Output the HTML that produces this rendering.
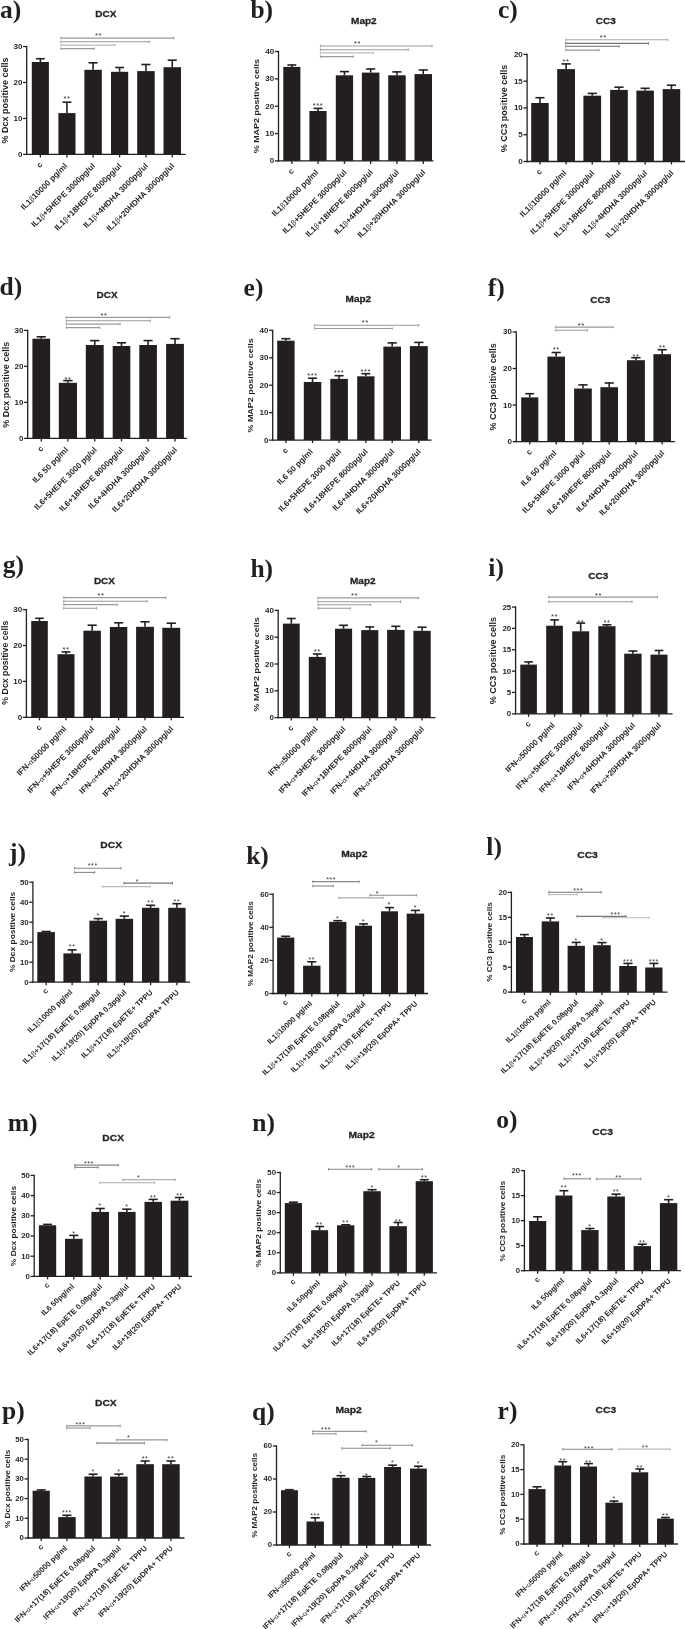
<!DOCTYPE html>
<html><head><meta charset="utf-8"><style>html,body{margin:0;padding:0;background:#fff;}svg{display:block;will-change:transform;}</style></head>
<body><svg width="685" height="1629" viewBox="0 0 685 1629">
<rect width="685" height="1629" fill="#fff"/>
<text x="0.1" y="17.6" font-family="Liberation Serif" font-weight="bold" font-size="25.5" fill="#231f20">a)</text>
<text transform="translate(95.3,17.1) scale(1.0,0.95)" font-family="Liberation Sans" font-weight="bold" font-size="10" fill="#231f20" stroke="#231f20" stroke-width="0.3">DCX</text>
<line x1="26.7" y1="45.90" x2="26.7" y2="155.05" stroke="#231f20" stroke-width="1.3"/>
<line x1="26.05" y1="154.4" x2="185.7" y2="154.4" stroke="#231f20" stroke-width="1.3"/>
<line x1="23.099999999999998" y1="154.40" x2="26.7" y2="154.40" stroke="#231f20" stroke-width="1.3"/>
<text transform="translate(22.40,157.24) scale(1,1.0)" text-anchor="end" font-family="Liberation Sans" font-weight="bold" font-size="8" fill="#231f20">0</text>
<line x1="23.099999999999998" y1="118.45" x2="26.7" y2="118.45" stroke="#231f20" stroke-width="1.3"/>
<text transform="translate(22.40,121.29) scale(1,1.0)" text-anchor="end" font-family="Liberation Sans" font-weight="bold" font-size="8" fill="#231f20">10</text>
<line x1="23.099999999999998" y1="82.50" x2="26.7" y2="82.50" stroke="#231f20" stroke-width="1.3"/>
<text transform="translate(22.40,85.34) scale(1,1.0)" text-anchor="end" font-family="Liberation Sans" font-weight="bold" font-size="8" fill="#231f20">20</text>
<line x1="23.099999999999998" y1="46.55" x2="26.7" y2="46.55" stroke="#231f20" stroke-width="1.3"/>
<text transform="translate(22.40,49.39) scale(1,1.0)" text-anchor="end" font-family="Liberation Sans" font-weight="bold" font-size="8" fill="#231f20">30</text>
<rect x="31.8" y="62" width="17.10" height="92.40" fill="#231f20"/>
<line x1="40.35" y1="58.4" x2="40.35" y2="62" stroke="#231f20" stroke-width="1.6"/>
<line x1="35.90" y1="58.70" x2="44.80" y2="58.70" stroke="#231f20" stroke-width="1.6"/>
<line x1="40.35" y1="154.4" x2="40.35" y2="157.4" stroke="#231f20" stroke-width="1.3"/>
<rect x="58.4" y="113.1" width="17.10" height="41.30" fill="#231f20"/>
<line x1="66.95" y1="101.9" x2="66.95" y2="113.1" stroke="#231f20" stroke-width="1.6"/>
<line x1="62.50" y1="102.20" x2="71.40" y2="102.20" stroke="#231f20" stroke-width="1.6"/>
<line x1="66.95" y1="154.4" x2="66.95" y2="157.4" stroke="#231f20" stroke-width="1.3"/>
<text x="66.95" y="101.34" text-anchor="middle" font-family="Liberation Sans" font-size="7.5" letter-spacing="0.6" fill="#333">**</text>
<rect x="84.4" y="69.8" width="17.40" height="84.60" fill="#231f20"/>
<line x1="93.10" y1="62.5" x2="93.10" y2="69.8" stroke="#231f20" stroke-width="1.6"/>
<line x1="88.58" y1="62.80" x2="97.62" y2="62.80" stroke="#231f20" stroke-width="1.6"/>
<line x1="93.10" y1="154.4" x2="93.10" y2="157.4" stroke="#231f20" stroke-width="1.3"/>
<rect x="111" y="71.8" width="17.20" height="82.60" fill="#231f20"/>
<line x1="119.60" y1="67.2" x2="119.60" y2="71.8" stroke="#231f20" stroke-width="1.6"/>
<line x1="115.13" y1="67.50" x2="124.07" y2="67.50" stroke="#231f20" stroke-width="1.6"/>
<line x1="119.60" y1="154.4" x2="119.60" y2="157.4" stroke="#231f20" stroke-width="1.3"/>
<rect x="137.2" y="71.1" width="17.50" height="83.30" fill="#231f20"/>
<line x1="145.95" y1="64.2" x2="145.95" y2="71.1" stroke="#231f20" stroke-width="1.6"/>
<line x1="141.40" y1="64.50" x2="150.50" y2="64.50" stroke="#231f20" stroke-width="1.6"/>
<line x1="145.95" y1="154.4" x2="145.95" y2="157.4" stroke="#231f20" stroke-width="1.3"/>
<rect x="163.5" y="67.2" width="17.50" height="87.20" fill="#231f20"/>
<line x1="172.25" y1="59.9" x2="172.25" y2="67.2" stroke="#231f20" stroke-width="1.6"/>
<line x1="167.70" y1="60.20" x2="176.80" y2="60.20" stroke="#231f20" stroke-width="1.6"/>
<line x1="172.25" y1="154.4" x2="172.25" y2="157.4" stroke="#231f20" stroke-width="1.3"/>
<line x1="60.6" y1="38.1" x2="174.2" y2="38.1" stroke="#9a9a9a" stroke-width="1.1"/>
<line x1="61.0" y1="36.800000000000004" x2="61.0" y2="39.4" stroke="#9a9a9a" stroke-width="0.9"/>
<line x1="173.79999999999998" y1="36.800000000000004" x2="173.79999999999998" y2="39.4" stroke="#9a9a9a" stroke-width="0.9"/>
<line x1="60.6" y1="41.8" x2="149.6" y2="41.8" stroke="#9a9a9a" stroke-width="1.1"/>
<line x1="61.0" y1="40.5" x2="61.0" y2="43.099999999999994" stroke="#9a9a9a" stroke-width="0.9"/>
<line x1="149.2" y1="40.5" x2="149.2" y2="43.099999999999994" stroke="#9a9a9a" stroke-width="0.9"/>
<line x1="60.6" y1="45.1" x2="115.3" y2="45.1" stroke="#bbb" stroke-width="1.1"/>
<line x1="61.0" y1="43.800000000000004" x2="61.0" y2="46.4" stroke="#bbb" stroke-width="0.9"/>
<line x1="114.89999999999999" y1="43.800000000000004" x2="114.89999999999999" y2="46.4" stroke="#bbb" stroke-width="0.9"/>
<line x1="60.6" y1="48.6" x2="94.6" y2="48.6" stroke="#9a9a9a" stroke-width="1.1"/>
<line x1="61.0" y1="47.300000000000004" x2="61.0" y2="49.9" stroke="#9a9a9a" stroke-width="0.9"/>
<line x1="94.19999999999999" y1="47.300000000000004" x2="94.19999999999999" y2="49.9" stroke="#9a9a9a" stroke-width="0.9"/>
<text x="98.5" y="37.64" text-anchor="middle" font-family="Liberation Sans" font-size="7.5" letter-spacing="0.6" fill="#333">**</text>
<text transform="translate(8.4,100.5) rotate(-90) scale(1,0.98)" text-anchor="middle" font-family="Liberation Sans" font-weight="bold" font-size="9" fill="#231f20">% Dcx positive cells</text>
<text transform="translate(42.95,165.00) scale(1,1.0) rotate(-45)" text-anchor="end" font-family="Liberation Sans" font-weight="bold" font-size="8.1" fill="#231f20">c</text>
<text transform="translate(67.85,166.50) scale(1,1.0) rotate(-45)" text-anchor="end" font-family="Liberation Sans" font-weight="bold" font-size="8.1" fill="#231f20">IL1<tspan font-family="Liberation Serif" font-weight="normal">&#946;</tspan>10000 pg/ml</text>
<text transform="translate(95.70,166.50) scale(1,1.0) rotate(-45)" text-anchor="end" font-family="Liberation Sans" font-weight="bold" font-size="8.1" fill="#231f20">IL1<tspan font-family="Liberation Serif" font-weight="normal">&#946;</tspan>+5HEPE 3000pg/ul</text>
<text transform="translate(122.20,166.50) scale(1,1.0) rotate(-45)" text-anchor="end" font-family="Liberation Sans" font-weight="bold" font-size="8.1" fill="#231f20">IL1<tspan font-family="Liberation Serif" font-weight="normal">&#946;</tspan>+18HEPE 8000pg/ul</text>
<text transform="translate(148.55,166.50) scale(1,1.0) rotate(-45)" text-anchor="end" font-family="Liberation Sans" font-weight="bold" font-size="8.1" fill="#231f20">IL1<tspan font-family="Liberation Serif" font-weight="normal">&#946;</tspan>+4HDHA 3000pg/ul</text>
<text transform="translate(174.85,166.50) scale(1,1.0) rotate(-45)" text-anchor="end" font-family="Liberation Sans" font-weight="bold" font-size="8.1" fill="#231f20">IL1<tspan font-family="Liberation Serif" font-weight="normal">&#946;</tspan>+20HDHA 3000pg/ul</text>
<text x="250.4" y="17.7" font-family="Liberation Serif" font-weight="bold" font-size="25.5" fill="#231f20">b)</text>
<text transform="translate(351.1,24) scale(1.0,0.95)" font-family="Liberation Sans" font-weight="bold" font-size="10" fill="#231f20" stroke="#231f20" stroke-width="0.3">Map2</text>
<line x1="278.5" y1="50.85" x2="278.5" y2="161.55" stroke="#231f20" stroke-width="1.3"/>
<line x1="277.85" y1="160.9" x2="433.5" y2="160.9" stroke="#231f20" stroke-width="1.3"/>
<line x1="274.9" y1="160.90" x2="278.5" y2="160.90" stroke="#231f20" stroke-width="1.3"/>
<text transform="translate(274.20,163.40) scale(1,0.88)" text-anchor="end" font-family="Liberation Sans" font-weight="bold" font-size="8" fill="#231f20">0</text>
<line x1="274.9" y1="133.55" x2="278.5" y2="133.55" stroke="#231f20" stroke-width="1.3"/>
<text transform="translate(274.20,136.05) scale(1,0.88)" text-anchor="end" font-family="Liberation Sans" font-weight="bold" font-size="8" fill="#231f20">10</text>
<line x1="274.9" y1="106.20" x2="278.5" y2="106.20" stroke="#231f20" stroke-width="1.3"/>
<text transform="translate(274.20,108.70) scale(1,0.88)" text-anchor="end" font-family="Liberation Sans" font-weight="bold" font-size="8" fill="#231f20">20</text>
<line x1="274.9" y1="78.85" x2="278.5" y2="78.85" stroke="#231f20" stroke-width="1.3"/>
<text transform="translate(274.20,81.35) scale(1,0.88)" text-anchor="end" font-family="Liberation Sans" font-weight="bold" font-size="8" fill="#231f20">30</text>
<line x1="274.9" y1="51.50" x2="278.5" y2="51.50" stroke="#231f20" stroke-width="1.3"/>
<text transform="translate(274.20,54.00) scale(1,0.88)" text-anchor="end" font-family="Liberation Sans" font-weight="bold" font-size="8" fill="#231f20">40</text>
<rect x="283.3" y="66.9" width="17.10" height="94.00" fill="#231f20"/>
<line x1="291.85" y1="64.7" x2="291.85" y2="66.9" stroke="#231f20" stroke-width="1.6"/>
<line x1="287.40" y1="65.00" x2="296.30" y2="65.00" stroke="#231f20" stroke-width="1.6"/>
<line x1="291.85" y1="160.9" x2="291.85" y2="163.9" stroke="#231f20" stroke-width="1.3"/>
<rect x="309.4" y="111" width="17.20" height="49.90" fill="#231f20"/>
<line x1="318.00" y1="108.1" x2="318.00" y2="111" stroke="#231f20" stroke-width="1.6"/>
<line x1="313.53" y1="108.40" x2="322.47" y2="108.40" stroke="#231f20" stroke-width="1.6"/>
<line x1="318.00" y1="160.9" x2="318.00" y2="163.9" stroke="#231f20" stroke-width="1.3"/>
<text x="318.00" y="108.34" text-anchor="middle" font-family="Liberation Sans" font-size="7.5" letter-spacing="0.6" fill="#333">***</text>
<rect x="335.8" y="75.3" width="17.30" height="85.60" fill="#231f20"/>
<line x1="344.45" y1="71.3" x2="344.45" y2="75.3" stroke="#231f20" stroke-width="1.6"/>
<line x1="339.95" y1="71.60" x2="348.95" y2="71.60" stroke="#231f20" stroke-width="1.6"/>
<line x1="344.45" y1="160.9" x2="344.45" y2="163.9" stroke="#231f20" stroke-width="1.3"/>
<rect x="361.9" y="72.6" width="17.50" height="88.30" fill="#231f20"/>
<line x1="370.65" y1="68.7" x2="370.65" y2="72.6" stroke="#231f20" stroke-width="1.6"/>
<line x1="366.10" y1="69.00" x2="375.20" y2="69.00" stroke="#231f20" stroke-width="1.6"/>
<line x1="370.65" y1="160.9" x2="370.65" y2="163.9" stroke="#231f20" stroke-width="1.3"/>
<rect x="388.2" y="75.3" width="17.50" height="85.60" fill="#231f20"/>
<line x1="396.95" y1="71.6" x2="396.95" y2="75.3" stroke="#231f20" stroke-width="1.6"/>
<line x1="392.40" y1="71.90" x2="401.50" y2="71.90" stroke="#231f20" stroke-width="1.6"/>
<line x1="396.95" y1="160.9" x2="396.95" y2="163.9" stroke="#231f20" stroke-width="1.3"/>
<rect x="414.5" y="74.1" width="17.50" height="86.80" fill="#231f20"/>
<line x1="423.25" y1="69.7" x2="423.25" y2="74.1" stroke="#231f20" stroke-width="1.6"/>
<line x1="418.70" y1="70.00" x2="427.80" y2="70.00" stroke="#231f20" stroke-width="1.6"/>
<line x1="423.25" y1="160.9" x2="423.25" y2="163.9" stroke="#231f20" stroke-width="1.3"/>
<line x1="320" y1="46" x2="432.4" y2="46" stroke="#9a9a9a" stroke-width="1.1"/>
<line x1="320.4" y1="44.7" x2="320.4" y2="47.3" stroke="#9a9a9a" stroke-width="0.9"/>
<line x1="432.0" y1="44.7" x2="432.0" y2="47.3" stroke="#9a9a9a" stroke-width="0.9"/>
<line x1="320" y1="49.7" x2="408.6" y2="49.7" stroke="#9a9a9a" stroke-width="1.1"/>
<line x1="320.4" y1="48.400000000000006" x2="320.4" y2="51.0" stroke="#9a9a9a" stroke-width="0.9"/>
<line x1="408.20000000000005" y1="48.400000000000006" x2="408.20000000000005" y2="51.0" stroke="#9a9a9a" stroke-width="0.9"/>
<line x1="320" y1="52.9" x2="373.9" y2="52.9" stroke="#bbb" stroke-width="1.1"/>
<line x1="320.4" y1="51.6" x2="320.4" y2="54.199999999999996" stroke="#bbb" stroke-width="0.9"/>
<line x1="373.5" y1="51.6" x2="373.5" y2="54.199999999999996" stroke="#bbb" stroke-width="0.9"/>
<line x1="320" y1="56.6" x2="353.6" y2="56.6" stroke="#9a9a9a" stroke-width="1.1"/>
<line x1="320.4" y1="55.300000000000004" x2="320.4" y2="57.9" stroke="#9a9a9a" stroke-width="0.9"/>
<line x1="353.20000000000005" y1="55.300000000000004" x2="353.20000000000005" y2="57.9" stroke="#9a9a9a" stroke-width="0.9"/>
<text x="357.5" y="46.14" text-anchor="middle" font-family="Liberation Sans" font-size="7.5" letter-spacing="0.6" fill="#333">**</text>
<text transform="translate(259.2,106.2) rotate(-90) scale(1,0.8)" text-anchor="middle" font-family="Liberation Sans" font-weight="bold" font-size="9" fill="#231f20">% MAP2 positive cells</text>
<text transform="translate(294.45,171.50) scale(1,1.0) rotate(-45)" text-anchor="end" font-family="Liberation Sans" font-weight="bold" font-size="8.1" fill="#231f20">c</text>
<text transform="translate(318.90,173.00) scale(1,1.0) rotate(-45)" text-anchor="end" font-family="Liberation Sans" font-weight="bold" font-size="8.1" fill="#231f20">IL1<tspan font-family="Liberation Serif" font-weight="normal">&#946;</tspan>10000 pg/ml</text>
<text transform="translate(347.05,173.00) scale(1,1.0) rotate(-45)" text-anchor="end" font-family="Liberation Sans" font-weight="bold" font-size="8.1" fill="#231f20">IL1<tspan font-family="Liberation Serif" font-weight="normal">&#946;</tspan>+5HEPE 3000pg/ul</text>
<text transform="translate(373.25,173.00) scale(1,1.0) rotate(-45)" text-anchor="end" font-family="Liberation Sans" font-weight="bold" font-size="8.1" fill="#231f20">IL1<tspan font-family="Liberation Serif" font-weight="normal">&#946;</tspan>+18HEPE 8000pg/ul</text>
<text transform="translate(399.55,173.00) scale(1,1.0) rotate(-45)" text-anchor="end" font-family="Liberation Sans" font-weight="bold" font-size="8.1" fill="#231f20">IL1<tspan font-family="Liberation Serif" font-weight="normal">&#946;</tspan>+4HDHA 3000pg/ul</text>
<text transform="translate(425.85,173.00) scale(1,1.0) rotate(-45)" text-anchor="end" font-family="Liberation Sans" font-weight="bold" font-size="8.1" fill="#231f20">IL1<tspan font-family="Liberation Serif" font-weight="normal">&#946;</tspan>+20HDHA 3000pg/ul</text>
<text x="497.9" y="17.7" font-family="Liberation Serif" font-weight="bold" font-size="25.5" fill="#231f20">c)</text>
<text transform="translate(595.7,23.8) scale(1.0,0.95)" font-family="Liberation Sans" font-weight="bold" font-size="10" fill="#231f20" stroke="#231f20" stroke-width="0.3">CC3</text>
<line x1="527.1" y1="53.75" x2="527.1" y2="162.15" stroke="#231f20" stroke-width="1.3"/>
<line x1="526.45" y1="161.5" x2="685" y2="161.5" stroke="#231f20" stroke-width="1.3"/>
<line x1="523.5" y1="161.50" x2="527.1" y2="161.50" stroke="#231f20" stroke-width="1.3"/>
<text transform="translate(522.80,164.00) scale(1,0.88)" text-anchor="end" font-family="Liberation Sans" font-weight="bold" font-size="8" fill="#231f20">0</text>
<line x1="523.5" y1="134.72" x2="527.1" y2="134.72" stroke="#231f20" stroke-width="1.3"/>
<text transform="translate(522.80,137.22) scale(1,0.88)" text-anchor="end" font-family="Liberation Sans" font-weight="bold" font-size="8" fill="#231f20">5</text>
<line x1="523.5" y1="107.95" x2="527.1" y2="107.95" stroke="#231f20" stroke-width="1.3"/>
<text transform="translate(522.80,110.45) scale(1,0.88)" text-anchor="end" font-family="Liberation Sans" font-weight="bold" font-size="8" fill="#231f20">10</text>
<line x1="523.5" y1="81.17" x2="527.1" y2="81.17" stroke="#231f20" stroke-width="1.3"/>
<text transform="translate(522.80,83.67) scale(1,0.88)" text-anchor="end" font-family="Liberation Sans" font-weight="bold" font-size="8" fill="#231f20">15</text>
<line x1="523.5" y1="54.40" x2="527.1" y2="54.40" stroke="#231f20" stroke-width="1.3"/>
<text transform="translate(522.80,56.90) scale(1,0.88)" text-anchor="end" font-family="Liberation Sans" font-weight="bold" font-size="8" fill="#231f20">20</text>
<rect x="531.2" y="103" width="17.50" height="58.50" fill="#231f20"/>
<line x1="539.95" y1="97.4" x2="539.95" y2="103" stroke="#231f20" stroke-width="1.6"/>
<line x1="535.40" y1="97.70" x2="544.50" y2="97.70" stroke="#231f20" stroke-width="1.6"/>
<line x1="539.95" y1="161.5" x2="539.95" y2="164.5" stroke="#231f20" stroke-width="1.3"/>
<rect x="557.2" y="69.1" width="17.80" height="92.40" fill="#231f20"/>
<line x1="566.10" y1="63.6" x2="566.10" y2="69.1" stroke="#231f20" stroke-width="1.6"/>
<line x1="561.47" y1="63.90" x2="570.73" y2="63.90" stroke="#231f20" stroke-width="1.6"/>
<line x1="566.10" y1="161.5" x2="566.10" y2="164.5" stroke="#231f20" stroke-width="1.3"/>
<text x="566.10" y="64.24" text-anchor="middle" font-family="Liberation Sans" font-size="7.5" letter-spacing="0.6" fill="#333">**</text>
<rect x="583.4" y="95.7" width="17.70" height="65.80" fill="#231f20"/>
<line x1="592.25" y1="93.1" x2="592.25" y2="95.7" stroke="#231f20" stroke-width="1.6"/>
<line x1="587.65" y1="93.40" x2="596.85" y2="93.40" stroke="#231f20" stroke-width="1.6"/>
<line x1="592.25" y1="161.5" x2="592.25" y2="164.5" stroke="#231f20" stroke-width="1.3"/>
<rect x="610.1" y="89.9" width="17.70" height="71.60" fill="#231f20"/>
<line x1="618.95" y1="86.9" x2="618.95" y2="89.9" stroke="#231f20" stroke-width="1.6"/>
<line x1="614.35" y1="87.20" x2="623.55" y2="87.20" stroke="#231f20" stroke-width="1.6"/>
<line x1="618.95" y1="161.5" x2="618.95" y2="164.5" stroke="#231f20" stroke-width="1.3"/>
<rect x="636.4" y="90.6" width="17.50" height="70.90" fill="#231f20"/>
<line x1="645.15" y1="88" x2="645.15" y2="90.6" stroke="#231f20" stroke-width="1.6"/>
<line x1="640.60" y1="88.30" x2="649.70" y2="88.30" stroke="#231f20" stroke-width="1.6"/>
<line x1="645.15" y1="161.5" x2="645.15" y2="164.5" stroke="#231f20" stroke-width="1.3"/>
<rect x="662.7" y="89.1" width="17.50" height="72.40" fill="#231f20"/>
<line x1="671.45" y1="84.9" x2="671.45" y2="89.1" stroke="#231f20" stroke-width="1.6"/>
<line x1="666.90" y1="85.20" x2="676.00" y2="85.20" stroke="#231f20" stroke-width="1.6"/>
<line x1="671.45" y1="161.5" x2="671.45" y2="164.5" stroke="#231f20" stroke-width="1.3"/>
<line x1="565.2" y1="39.8" x2="668.2" y2="39.8" stroke="#aaa" stroke-width="1.1"/>
<line x1="565.6" y1="38.5" x2="565.6" y2="41.099999999999994" stroke="#aaa" stroke-width="0.9"/>
<line x1="667.8000000000001" y1="38.5" x2="667.8000000000001" y2="41.099999999999994" stroke="#aaa" stroke-width="0.9"/>
<line x1="565.2" y1="43.4" x2="648.8" y2="43.4" stroke="#777" stroke-width="1.1"/>
<line x1="565.6" y1="42.1" x2="565.6" y2="44.699999999999996" stroke="#777" stroke-width="0.9"/>
<line x1="648.4" y1="42.1" x2="648.4" y2="44.699999999999996" stroke="#777" stroke-width="0.9"/>
<line x1="565.2" y1="46.4" x2="619.6" y2="46.4" stroke="#888" stroke-width="1.1"/>
<line x1="565.6" y1="45.1" x2="565.6" y2="47.699999999999996" stroke="#888" stroke-width="0.9"/>
<line x1="619.2" y1="45.1" x2="619.2" y2="47.699999999999996" stroke="#888" stroke-width="0.9"/>
<line x1="565.2" y1="50.1" x2="599.3" y2="50.1" stroke="#999" stroke-width="1.1"/>
<line x1="565.6" y1="48.800000000000004" x2="565.6" y2="51.4" stroke="#999" stroke-width="0.9"/>
<line x1="598.9" y1="48.800000000000004" x2="598.9" y2="51.4" stroke="#999" stroke-width="0.9"/>
<text x="603.3" y="39.94" text-anchor="middle" font-family="Liberation Sans" font-size="7.5" letter-spacing="0.6" fill="#333">**</text>
<text transform="translate(507,108.5) rotate(-90) scale(1,0.95)" text-anchor="middle" font-family="Liberation Sans" font-weight="bold" font-size="9" fill="#231f20">% CC3 positive cells</text>
<text transform="translate(542.55,172.10) scale(1,1.0) rotate(-45)" text-anchor="end" font-family="Liberation Sans" font-weight="bold" font-size="8.1" fill="#231f20">c</text>
<text transform="translate(567.00,173.60) scale(1,1.0) rotate(-45)" text-anchor="end" font-family="Liberation Sans" font-weight="bold" font-size="8.1" fill="#231f20">IL1<tspan font-family="Liberation Serif" font-weight="normal">&#946;</tspan>10000 pg/ml</text>
<text transform="translate(594.85,173.60) scale(1,1.0) rotate(-45)" text-anchor="end" font-family="Liberation Sans" font-weight="bold" font-size="8.1" fill="#231f20">IL1<tspan font-family="Liberation Serif" font-weight="normal">&#946;</tspan>+5HEPE 3000pg/ul</text>
<text transform="translate(621.55,173.60) scale(1,1.0) rotate(-45)" text-anchor="end" font-family="Liberation Sans" font-weight="bold" font-size="8.1" fill="#231f20">IL1<tspan font-family="Liberation Serif" font-weight="normal">&#946;</tspan>+18HEPE 8000pg/ul</text>
<text transform="translate(647.75,173.60) scale(1,1.0) rotate(-45)" text-anchor="end" font-family="Liberation Sans" font-weight="bold" font-size="8.1" fill="#231f20">IL1<tspan font-family="Liberation Serif" font-weight="normal">&#946;</tspan>+4HDHA 3000pg/ul</text>
<text transform="translate(674.05,173.60) scale(1,1.0) rotate(-45)" text-anchor="end" font-family="Liberation Sans" font-weight="bold" font-size="8.1" fill="#231f20">IL1<tspan font-family="Liberation Serif" font-weight="normal">&#946;</tspan>+20HDHA 3000pg/ul</text>
<text x="-0.5" y="295.1" font-family="Liberation Serif" font-weight="bold" font-size="25.5" fill="#231f20">d)</text>
<text transform="translate(96.6,297.9) scale(1.0,0.95)" font-family="Liberation Sans" font-weight="bold" font-size="10" fill="#231f20" stroke="#231f20" stroke-width="0.3">DCX</text>
<line x1="27.7" y1="329.75" x2="27.7" y2="439.05" stroke="#231f20" stroke-width="1.3"/>
<line x1="27.05" y1="438.4" x2="187" y2="438.4" stroke="#231f20" stroke-width="1.3"/>
<line x1="24.099999999999998" y1="438.40" x2="27.7" y2="438.40" stroke="#231f20" stroke-width="1.3"/>
<text transform="translate(23.40,440.90) scale(1,0.88)" text-anchor="end" font-family="Liberation Sans" font-weight="bold" font-size="8" fill="#231f20">0</text>
<line x1="24.099999999999998" y1="402.40" x2="27.7" y2="402.40" stroke="#231f20" stroke-width="1.3"/>
<text transform="translate(23.40,404.90) scale(1,0.88)" text-anchor="end" font-family="Liberation Sans" font-weight="bold" font-size="8" fill="#231f20">10</text>
<line x1="24.099999999999998" y1="366.40" x2="27.7" y2="366.40" stroke="#231f20" stroke-width="1.3"/>
<text transform="translate(23.40,368.90) scale(1,0.88)" text-anchor="end" font-family="Liberation Sans" font-weight="bold" font-size="8" fill="#231f20">20</text>
<line x1="24.099999999999998" y1="330.40" x2="27.7" y2="330.40" stroke="#231f20" stroke-width="1.3"/>
<text transform="translate(23.40,332.90) scale(1,0.88)" text-anchor="end" font-family="Liberation Sans" font-weight="bold" font-size="8" fill="#231f20">30</text>
<rect x="32.4" y="338.7" width="17.70" height="99.70" fill="#231f20"/>
<line x1="41.25" y1="336.5" x2="41.25" y2="338.7" stroke="#231f20" stroke-width="1.6"/>
<line x1="36.65" y1="336.80" x2="45.85" y2="336.80" stroke="#231f20" stroke-width="1.6"/>
<line x1="41.25" y1="438.4" x2="41.25" y2="441.4" stroke="#231f20" stroke-width="1.3"/>
<rect x="58.8" y="382.8" width="18.20" height="55.60" fill="#231f20"/>
<line x1="67.90" y1="380.3" x2="67.90" y2="382.8" stroke="#231f20" stroke-width="1.6"/>
<line x1="63.17" y1="380.60" x2="72.63" y2="380.60" stroke="#231f20" stroke-width="1.6"/>
<line x1="67.90" y1="438.4" x2="67.90" y2="441.4" stroke="#231f20" stroke-width="1.3"/>
<text x="67.90" y="382.14" text-anchor="middle" font-family="Liberation Sans" font-size="7.5" letter-spacing="0.6" fill="#333">**</text>
<rect x="85.8" y="345" width="17.90" height="93.40" fill="#231f20"/>
<line x1="94.75" y1="340.3" x2="94.75" y2="345" stroke="#231f20" stroke-width="1.6"/>
<line x1="90.10" y1="340.60" x2="99.40" y2="340.60" stroke="#231f20" stroke-width="1.6"/>
<line x1="94.75" y1="438.4" x2="94.75" y2="441.4" stroke="#231f20" stroke-width="1.3"/>
<rect x="112.7" y="346" width="17.60" height="92.40" fill="#231f20"/>
<line x1="121.50" y1="342.5" x2="121.50" y2="346" stroke="#231f20" stroke-width="1.6"/>
<line x1="116.92" y1="342.80" x2="126.08" y2="342.80" stroke="#231f20" stroke-width="1.6"/>
<line x1="121.50" y1="438.4" x2="121.50" y2="441.4" stroke="#231f20" stroke-width="1.3"/>
<rect x="139.3" y="345" width="17.60" height="93.40" fill="#231f20"/>
<line x1="148.10" y1="340.3" x2="148.10" y2="345" stroke="#231f20" stroke-width="1.6"/>
<line x1="143.52" y1="340.60" x2="152.68" y2="340.60" stroke="#231f20" stroke-width="1.6"/>
<line x1="148.10" y1="438.4" x2="148.10" y2="441.4" stroke="#231f20" stroke-width="1.3"/>
<rect x="166.1" y="343.9" width="17.80" height="94.50" fill="#231f20"/>
<line x1="175.00" y1="338.4" x2="175.00" y2="343.9" stroke="#231f20" stroke-width="1.6"/>
<line x1="170.37" y1="338.70" x2="179.63" y2="338.70" stroke="#231f20" stroke-width="1.6"/>
<line x1="175.00" y1="438.4" x2="175.00" y2="441.4" stroke="#231f20" stroke-width="1.3"/>
<line x1="65.9" y1="317.4" x2="170" y2="317.4" stroke="#9a9a9a" stroke-width="1.1"/>
<line x1="66.30000000000001" y1="316.09999999999997" x2="66.30000000000001" y2="318.7" stroke="#9a9a9a" stroke-width="0.9"/>
<line x1="169.6" y1="316.09999999999997" x2="169.6" y2="318.7" stroke="#9a9a9a" stroke-width="0.9"/>
<line x1="65.9" y1="320.8" x2="150.8" y2="320.8" stroke="#9a9a9a" stroke-width="1.1"/>
<line x1="66.30000000000001" y1="319.5" x2="66.30000000000001" y2="322.1" stroke="#9a9a9a" stroke-width="0.9"/>
<line x1="150.4" y1="319.5" x2="150.4" y2="322.1" stroke="#9a9a9a" stroke-width="0.9"/>
<line x1="65.9" y1="324.1" x2="120.5" y2="324.1" stroke="#9a9a9a" stroke-width="1.1"/>
<line x1="66.30000000000001" y1="322.8" x2="66.30000000000001" y2="325.40000000000003" stroke="#9a9a9a" stroke-width="0.9"/>
<line x1="120.1" y1="322.8" x2="120.1" y2="325.40000000000003" stroke="#9a9a9a" stroke-width="0.9"/>
<line x1="65.9" y1="327.6" x2="100.1" y2="327.6" stroke="#9a9a9a" stroke-width="1.1"/>
<line x1="66.30000000000001" y1="326.3" x2="66.30000000000001" y2="328.90000000000003" stroke="#9a9a9a" stroke-width="0.9"/>
<line x1="99.69999999999999" y1="326.3" x2="99.69999999999999" y2="328.90000000000003" stroke="#9a9a9a" stroke-width="0.9"/>
<text x="103.9" y="317.54" text-anchor="middle" font-family="Liberation Sans" font-size="7.5" letter-spacing="0.6" fill="#333">**</text>
<text transform="translate(9.2,384.7) rotate(-90) scale(1,0.95)" text-anchor="middle" font-family="Liberation Sans" font-weight="bold" font-size="9" fill="#231f20">% Dcx positive cells</text>
<text transform="translate(43.85,449.00) scale(1,1.0) rotate(-45)" text-anchor="end" font-family="Liberation Sans" font-weight="bold" font-size="8.1" fill="#231f20">c</text>
<text transform="translate(68.80,450.50) scale(1,1.0) rotate(-45)" text-anchor="end" font-family="Liberation Sans" font-weight="bold" font-size="8.1" fill="#231f20">IL6 50 pg/ml</text>
<text transform="translate(97.35,450.50) scale(1,1.0) rotate(-45)" text-anchor="end" font-family="Liberation Sans" font-weight="bold" font-size="8.1" fill="#231f20">IL6+5HEPE 3000 pg/ul</text>
<text transform="translate(124.10,450.50) scale(1,1.0) rotate(-45)" text-anchor="end" font-family="Liberation Sans" font-weight="bold" font-size="8.1" fill="#231f20">IL6+18HEPE 8000pg/ul</text>
<text transform="translate(150.70,450.50) scale(1,1.0) rotate(-45)" text-anchor="end" font-family="Liberation Sans" font-weight="bold" font-size="8.1" fill="#231f20">IL6+4HDHA 3000pg/ul</text>
<text transform="translate(177.60,450.50) scale(1,1.0) rotate(-45)" text-anchor="end" font-family="Liberation Sans" font-weight="bold" font-size="8.1" fill="#231f20">IL6+20HDHA 3000pg/ul</text>
<text x="243.6" y="296" font-family="Liberation Serif" font-weight="bold" font-size="25.5" fill="#231f20">e)</text>
<text transform="translate(345.6,302.3) scale(1.0,0.95)" font-family="Liberation Sans" font-weight="bold" font-size="10" fill="#231f20" stroke="#231f20" stroke-width="0.3">Map2</text>
<line x1="272.7" y1="329.65" x2="272.7" y2="440.75" stroke="#231f20" stroke-width="1.3"/>
<line x1="272.05" y1="440.1" x2="431.5" y2="440.1" stroke="#231f20" stroke-width="1.3"/>
<line x1="269.09999999999997" y1="440.10" x2="272.7" y2="440.10" stroke="#231f20" stroke-width="1.3"/>
<text transform="translate(268.40,442.60) scale(1,0.88)" text-anchor="end" font-family="Liberation Sans" font-weight="bold" font-size="8" fill="#231f20">0</text>
<line x1="269.09999999999997" y1="412.65" x2="272.7" y2="412.65" stroke="#231f20" stroke-width="1.3"/>
<text transform="translate(268.40,415.15) scale(1,0.88)" text-anchor="end" font-family="Liberation Sans" font-weight="bold" font-size="8" fill="#231f20">10</text>
<line x1="269.09999999999997" y1="385.20" x2="272.7" y2="385.20" stroke="#231f20" stroke-width="1.3"/>
<text transform="translate(268.40,387.70) scale(1,0.88)" text-anchor="end" font-family="Liberation Sans" font-weight="bold" font-size="8" fill="#231f20">20</text>
<line x1="269.09999999999997" y1="357.75" x2="272.7" y2="357.75" stroke="#231f20" stroke-width="1.3"/>
<text transform="translate(268.40,360.25) scale(1,0.88)" text-anchor="end" font-family="Liberation Sans" font-weight="bold" font-size="8" fill="#231f20">30</text>
<line x1="269.09999999999997" y1="330.30" x2="272.7" y2="330.30" stroke="#231f20" stroke-width="1.3"/>
<text transform="translate(268.40,332.80) scale(1,0.88)" text-anchor="end" font-family="Liberation Sans" font-weight="bold" font-size="8" fill="#231f20">40</text>
<rect x="277.2" y="340.7" width="17.40" height="99.40" fill="#231f20"/>
<line x1="285.90" y1="338.4" x2="285.90" y2="340.7" stroke="#231f20" stroke-width="1.6"/>
<line x1="281.38" y1="338.70" x2="290.42" y2="338.70" stroke="#231f20" stroke-width="1.6"/>
<line x1="285.90" y1="440.1" x2="285.90" y2="443.1" stroke="#231f20" stroke-width="1.3"/>
<rect x="303.8" y="382" width="17.50" height="58.10" fill="#231f20"/>
<line x1="312.55" y1="377.9" x2="312.55" y2="382" stroke="#231f20" stroke-width="1.6"/>
<line x1="308.00" y1="378.20" x2="317.10" y2="378.20" stroke="#231f20" stroke-width="1.6"/>
<line x1="312.55" y1="440.1" x2="312.55" y2="443.1" stroke="#231f20" stroke-width="1.3"/>
<text x="312.55" y="377.64" text-anchor="middle" font-family="Liberation Sans" font-size="7.5" letter-spacing="0.6" fill="#333">***</text>
<rect x="330.3" y="378.9" width="17.60" height="61.20" fill="#231f20"/>
<line x1="339.10" y1="375.4" x2="339.10" y2="378.9" stroke="#231f20" stroke-width="1.6"/>
<line x1="334.52" y1="375.70" x2="343.68" y2="375.70" stroke="#231f20" stroke-width="1.6"/>
<line x1="339.10" y1="440.1" x2="339.10" y2="443.1" stroke="#231f20" stroke-width="1.3"/>
<text x="339.10" y="375.14" text-anchor="middle" font-family="Liberation Sans" font-size="7.5" letter-spacing="0.6" fill="#333">***</text>
<rect x="357.2" y="376.3" width="17.30" height="63.80" fill="#231f20"/>
<line x1="365.85" y1="373.4" x2="365.85" y2="376.3" stroke="#231f20" stroke-width="1.6"/>
<line x1="361.35" y1="373.70" x2="370.35" y2="373.70" stroke="#231f20" stroke-width="1.6"/>
<line x1="365.85" y1="440.1" x2="365.85" y2="443.1" stroke="#231f20" stroke-width="1.3"/>
<text x="365.85" y="373.54" text-anchor="middle" font-family="Liberation Sans" font-size="7.5" letter-spacing="0.6" fill="#333">***</text>
<rect x="383.4" y="346.6" width="17.60" height="93.50" fill="#231f20"/>
<line x1="392.20" y1="342.6" x2="392.20" y2="346.6" stroke="#231f20" stroke-width="1.6"/>
<line x1="387.62" y1="342.90" x2="396.78" y2="342.90" stroke="#231f20" stroke-width="1.6"/>
<line x1="392.20" y1="440.1" x2="392.20" y2="443.1" stroke="#231f20" stroke-width="1.3"/>
<rect x="409.9" y="346.1" width="17.90" height="94.00" fill="#231f20"/>
<line x1="418.85" y1="342.1" x2="418.85" y2="346.1" stroke="#231f20" stroke-width="1.6"/>
<line x1="414.20" y1="342.40" x2="423.50" y2="342.40" stroke="#231f20" stroke-width="1.6"/>
<line x1="418.85" y1="440.1" x2="418.85" y2="443.1" stroke="#231f20" stroke-width="1.3"/>
<line x1="314.2" y1="325.2" x2="419" y2="325.2" stroke="#9a9a9a" stroke-width="1.1"/>
<line x1="314.59999999999997" y1="323.9" x2="314.59999999999997" y2="326.5" stroke="#9a9a9a" stroke-width="0.9"/>
<line x1="418.6" y1="323.9" x2="418.6" y2="326.5" stroke="#9a9a9a" stroke-width="0.9"/>
<line x1="314.2" y1="328.5" x2="392.5" y2="328.5" stroke="#9a9a9a" stroke-width="1.1"/>
<line x1="314.59999999999997" y1="327.2" x2="314.59999999999997" y2="329.8" stroke="#9a9a9a" stroke-width="0.9"/>
<line x1="392.1" y1="327.2" x2="392.1" y2="329.8" stroke="#9a9a9a" stroke-width="0.9"/>
<text x="365.3" y="325.34" text-anchor="middle" font-family="Liberation Sans" font-size="7.5" letter-spacing="0.6" fill="#333">**</text>
<text transform="translate(253.3,385.4) rotate(-90) scale(1,0.82)" text-anchor="middle" font-family="Liberation Sans" font-weight="bold" font-size="9" fill="#231f20">% MAP2 positive cells</text>
<text transform="translate(288.50,450.70) scale(1,1.0) rotate(-45)" text-anchor="end" font-family="Liberation Sans" font-weight="bold" font-size="8.1" fill="#231f20">c</text>
<text transform="translate(313.45,452.20) scale(1,1.0) rotate(-45)" text-anchor="end" font-family="Liberation Sans" font-weight="bold" font-size="8.1" fill="#231f20">IL6 50 pg/ml</text>
<text transform="translate(341.70,452.20) scale(1,1.0) rotate(-45)" text-anchor="end" font-family="Liberation Sans" font-weight="bold" font-size="8.1" fill="#231f20">IL6+5HEPE 3000 pg/ul</text>
<text transform="translate(368.45,452.20) scale(1,1.0) rotate(-45)" text-anchor="end" font-family="Liberation Sans" font-weight="bold" font-size="8.1" fill="#231f20">IL6+18HEPE 8000pg/ul</text>
<text transform="translate(394.80,452.20) scale(1,1.0) rotate(-45)" text-anchor="end" font-family="Liberation Sans" font-weight="bold" font-size="8.1" fill="#231f20">IL6+4HDHA 3000pg/ul</text>
<text transform="translate(421.45,452.20) scale(1,1.0) rotate(-45)" text-anchor="end" font-family="Liberation Sans" font-weight="bold" font-size="8.1" fill="#231f20">IL6+20HDHA 3000pg/ul</text>
<text x="487.8" y="295.8" font-family="Liberation Serif" font-weight="bold" font-size="25.5" fill="#231f20">f)</text>
<text transform="translate(590.2,302.8) scale(1.0,0.95)" font-family="Liberation Sans" font-weight="bold" font-size="10" fill="#231f20" stroke="#231f20" stroke-width="0.3">CC3</text>
<line x1="516.3" y1="331.30" x2="516.3" y2="442.25" stroke="#231f20" stroke-width="1.3"/>
<line x1="515.65" y1="441.6" x2="675" y2="441.6" stroke="#231f20" stroke-width="1.3"/>
<line x1="512.6999999999999" y1="441.60" x2="516.3" y2="441.60" stroke="#231f20" stroke-width="1.3"/>
<text transform="translate(512.00,444.10) scale(1,0.88)" text-anchor="end" font-family="Liberation Sans" font-weight="bold" font-size="8" fill="#231f20">0</text>
<line x1="512.6999999999999" y1="405.05" x2="516.3" y2="405.05" stroke="#231f20" stroke-width="1.3"/>
<text transform="translate(512.00,407.55) scale(1,0.88)" text-anchor="end" font-family="Liberation Sans" font-weight="bold" font-size="8" fill="#231f20">10</text>
<line x1="512.6999999999999" y1="368.50" x2="516.3" y2="368.50" stroke="#231f20" stroke-width="1.3"/>
<text transform="translate(512.00,371.00) scale(1,0.88)" text-anchor="end" font-family="Liberation Sans" font-weight="bold" font-size="8" fill="#231f20">20</text>
<line x1="512.6999999999999" y1="331.95" x2="516.3" y2="331.95" stroke="#231f20" stroke-width="1.3"/>
<text transform="translate(512.00,334.45) scale(1,0.88)" text-anchor="end" font-family="Liberation Sans" font-weight="bold" font-size="8" fill="#231f20">30</text>
<rect x="521.2" y="397.4" width="17.10" height="44.20" fill="#231f20"/>
<line x1="529.75" y1="393.4" x2="529.75" y2="397.4" stroke="#231f20" stroke-width="1.6"/>
<line x1="525.30" y1="393.70" x2="534.20" y2="393.70" stroke="#231f20" stroke-width="1.6"/>
<line x1="529.75" y1="441.6" x2="529.75" y2="444.6" stroke="#231f20" stroke-width="1.3"/>
<rect x="547.4" y="356.6" width="17.60" height="85.00" fill="#231f20"/>
<line x1="556.20" y1="352.2" x2="556.20" y2="356.6" stroke="#231f20" stroke-width="1.6"/>
<line x1="551.62" y1="352.50" x2="560.78" y2="352.50" stroke="#231f20" stroke-width="1.6"/>
<line x1="556.20" y1="441.6" x2="556.20" y2="444.6" stroke="#231f20" stroke-width="1.3"/>
<text x="556.20" y="352.14" text-anchor="middle" font-family="Liberation Sans" font-size="7.5" letter-spacing="0.6" fill="#333">**</text>
<rect x="574.1" y="388.5" width="17.70" height="53.10" fill="#231f20"/>
<line x1="582.95" y1="384.6" x2="582.95" y2="388.5" stroke="#231f20" stroke-width="1.6"/>
<line x1="578.35" y1="384.90" x2="587.55" y2="384.90" stroke="#231f20" stroke-width="1.6"/>
<line x1="582.95" y1="441.6" x2="582.95" y2="444.6" stroke="#231f20" stroke-width="1.3"/>
<rect x="600.4" y="387.2" width="17.60" height="54.40" fill="#231f20"/>
<line x1="609.20" y1="382.7" x2="609.20" y2="387.2" stroke="#231f20" stroke-width="1.6"/>
<line x1="604.62" y1="383.00" x2="613.78" y2="383.00" stroke="#231f20" stroke-width="1.6"/>
<line x1="609.20" y1="441.6" x2="609.20" y2="444.6" stroke="#231f20" stroke-width="1.3"/>
<rect x="626.9" y="360.2" width="18.00" height="81.40" fill="#231f20"/>
<line x1="635.90" y1="357.4" x2="635.90" y2="360.2" stroke="#231f20" stroke-width="1.6"/>
<line x1="631.22" y1="357.70" x2="640.58" y2="357.70" stroke="#231f20" stroke-width="1.6"/>
<line x1="635.90" y1="441.6" x2="635.90" y2="444.6" stroke="#231f20" stroke-width="1.3"/>
<text x="635.90" y="358.54" text-anchor="middle" font-family="Liberation Sans" font-size="7.5" letter-spacing="0.6" fill="#333">**</text>
<rect x="653.4" y="354.2" width="17.60" height="87.40" fill="#231f20"/>
<line x1="662.20" y1="349.4" x2="662.20" y2="354.2" stroke="#231f20" stroke-width="1.6"/>
<line x1="657.62" y1="349.70" x2="666.78" y2="349.70" stroke="#231f20" stroke-width="1.6"/>
<line x1="662.20" y1="441.6" x2="662.20" y2="444.6" stroke="#231f20" stroke-width="1.3"/>
<text x="662.20" y="350.04" text-anchor="middle" font-family="Liberation Sans" font-size="7.5" letter-spacing="0.6" fill="#333">**</text>
<line x1="555.3" y1="327.1" x2="613.5" y2="327.1" stroke="#9a9a9a" stroke-width="1.1"/>
<line x1="555.6999999999999" y1="325.8" x2="555.6999999999999" y2="328.40000000000003" stroke="#9a9a9a" stroke-width="0.9"/>
<line x1="613.1" y1="325.8" x2="613.1" y2="328.40000000000003" stroke="#9a9a9a" stroke-width="0.9"/>
<line x1="555.3" y1="330.2" x2="587.8" y2="330.2" stroke="#9a9a9a" stroke-width="1.1"/>
<line x1="555.6999999999999" y1="328.9" x2="555.6999999999999" y2="331.5" stroke="#9a9a9a" stroke-width="0.9"/>
<line x1="587.4" y1="328.9" x2="587.4" y2="331.5" stroke="#9a9a9a" stroke-width="0.9"/>
<text x="581.2" y="328.04" text-anchor="middle" font-family="Liberation Sans" font-size="7.5" letter-spacing="0.6" fill="#333">**</text>
<text transform="translate(495.9,386.9) rotate(-90) scale(1,0.95)" text-anchor="middle" font-family="Liberation Sans" font-weight="bold" font-size="9" fill="#231f20">% CC3 positive cells</text>
<text transform="translate(532.35,452.20) scale(1,1.0) rotate(-45)" text-anchor="end" font-family="Liberation Sans" font-weight="bold" font-size="8.1" fill="#231f20">c</text>
<text transform="translate(557.10,453.70) scale(1,1.0) rotate(-45)" text-anchor="end" font-family="Liberation Sans" font-weight="bold" font-size="8.1" fill="#231f20">IL6 50 pg/ml</text>
<text transform="translate(585.55,453.70) scale(1,1.0) rotate(-45)" text-anchor="end" font-family="Liberation Sans" font-weight="bold" font-size="8.1" fill="#231f20">IL6+5HEPE 3000 pg/ul</text>
<text transform="translate(611.80,453.70) scale(1,1.0) rotate(-45)" text-anchor="end" font-family="Liberation Sans" font-weight="bold" font-size="8.1" fill="#231f20">IL6+18HEPE 8000pg/ul</text>
<text transform="translate(638.50,453.70) scale(1,1.0) rotate(-45)" text-anchor="end" font-family="Liberation Sans" font-weight="bold" font-size="8.1" fill="#231f20">IL6+4HDHA 3000pg/ul</text>
<text transform="translate(664.80,453.70) scale(1,1.0) rotate(-45)" text-anchor="end" font-family="Liberation Sans" font-weight="bold" font-size="8.1" fill="#231f20">IL6+20HDHA 3000pg/ul</text>
<text x="2.8" y="573.3" font-family="Liberation Serif" font-weight="bold" font-size="25.5" fill="#231f20">g)</text>
<text transform="translate(93.9,584.2) scale(1.0,0.95)" font-family="Liberation Sans" font-weight="bold" font-size="10" fill="#231f20" stroke="#231f20" stroke-width="0.3">DCX</text>
<line x1="26.4" y1="608.95" x2="26.4" y2="717.95" stroke="#231f20" stroke-width="1.3"/>
<line x1="25.75" y1="717.3" x2="184" y2="717.3" stroke="#231f20" stroke-width="1.3"/>
<line x1="22.799999999999997" y1="717.30" x2="26.4" y2="717.30" stroke="#231f20" stroke-width="1.3"/>
<text transform="translate(22.10,719.80) scale(1,0.88)" text-anchor="end" font-family="Liberation Sans" font-weight="bold" font-size="8" fill="#231f20">0</text>
<line x1="22.799999999999997" y1="681.40" x2="26.4" y2="681.40" stroke="#231f20" stroke-width="1.3"/>
<text transform="translate(22.10,683.90) scale(1,0.88)" text-anchor="end" font-family="Liberation Sans" font-weight="bold" font-size="8" fill="#231f20">10</text>
<line x1="22.799999999999997" y1="645.50" x2="26.4" y2="645.50" stroke="#231f20" stroke-width="1.3"/>
<text transform="translate(22.10,648.00) scale(1,0.88)" text-anchor="end" font-family="Liberation Sans" font-weight="bold" font-size="8" fill="#231f20">20</text>
<line x1="22.799999999999997" y1="609.60" x2="26.4" y2="609.60" stroke="#231f20" stroke-width="1.3"/>
<text transform="translate(22.10,612.10) scale(1,0.88)" text-anchor="end" font-family="Liberation Sans" font-weight="bold" font-size="8" fill="#231f20">30</text>
<rect x="31.2" y="621" width="16.60" height="96.30" fill="#231f20"/>
<line x1="39.50" y1="618" x2="39.50" y2="621" stroke="#231f20" stroke-width="1.6"/>
<line x1="35.18" y1="618.30" x2="43.82" y2="618.30" stroke="#231f20" stroke-width="1.6"/>
<line x1="39.50" y1="717.3" x2="39.50" y2="720.3" stroke="#231f20" stroke-width="1.3"/>
<rect x="57.5" y="654.2" width="17.00" height="63.10" fill="#231f20"/>
<line x1="66.00" y1="651.6" x2="66.00" y2="654.2" stroke="#231f20" stroke-width="1.6"/>
<line x1="61.58" y1="651.90" x2="70.42" y2="651.90" stroke="#231f20" stroke-width="1.6"/>
<line x1="66.00" y1="717.3" x2="66.00" y2="720.3" stroke="#231f20" stroke-width="1.3"/>
<text x="66.00" y="651.94" text-anchor="middle" font-family="Liberation Sans" font-size="7.5" letter-spacing="0.6" fill="#333">**</text>
<rect x="83.4" y="630.7" width="17.50" height="86.60" fill="#231f20"/>
<line x1="92.15" y1="624.9" x2="92.15" y2="630.7" stroke="#231f20" stroke-width="1.6"/>
<line x1="87.60" y1="625.20" x2="96.70" y2="625.20" stroke="#231f20" stroke-width="1.6"/>
<line x1="92.15" y1="717.3" x2="92.15" y2="720.3" stroke="#231f20" stroke-width="1.3"/>
<rect x="109.9" y="627" width="17.40" height="90.30" fill="#231f20"/>
<line x1="118.60" y1="622.5" x2="118.60" y2="627" stroke="#231f20" stroke-width="1.6"/>
<line x1="114.08" y1="622.80" x2="123.12" y2="622.80" stroke="#231f20" stroke-width="1.6"/>
<line x1="118.60" y1="717.3" x2="118.60" y2="720.3" stroke="#231f20" stroke-width="1.3"/>
<rect x="136.1" y="626.8" width="17.80" height="90.50" fill="#231f20"/>
<line x1="145.00" y1="621.5" x2="145.00" y2="626.8" stroke="#231f20" stroke-width="1.6"/>
<line x1="140.37" y1="621.80" x2="149.63" y2="621.80" stroke="#231f20" stroke-width="1.6"/>
<line x1="145.00" y1="717.3" x2="145.00" y2="720.3" stroke="#231f20" stroke-width="1.3"/>
<rect x="162.3" y="627.8" width="17.90" height="89.50" fill="#231f20"/>
<line x1="171.25" y1="622.9" x2="171.25" y2="627.8" stroke="#231f20" stroke-width="1.6"/>
<line x1="166.60" y1="623.20" x2="175.90" y2="623.20" stroke="#231f20" stroke-width="1.6"/>
<line x1="171.25" y1="717.3" x2="171.25" y2="720.3" stroke="#231f20" stroke-width="1.3"/>
<line x1="63.4" y1="597.6" x2="166.2" y2="597.6" stroke="#9a9a9a" stroke-width="1.1"/>
<line x1="63.8" y1="596.3000000000001" x2="63.8" y2="598.9" stroke="#9a9a9a" stroke-width="0.9"/>
<line x1="165.79999999999998" y1="596.3000000000001" x2="165.79999999999998" y2="598.9" stroke="#9a9a9a" stroke-width="0.9"/>
<line x1="63.4" y1="601.3" x2="147.4" y2="601.3" stroke="#9a9a9a" stroke-width="1.1"/>
<line x1="63.8" y1="600.0" x2="63.8" y2="602.5999999999999" stroke="#9a9a9a" stroke-width="0.9"/>
<line x1="147.0" y1="600.0" x2="147.0" y2="602.5999999999999" stroke="#9a9a9a" stroke-width="0.9"/>
<line x1="63.4" y1="604.6" x2="117.7" y2="604.6" stroke="#9a9a9a" stroke-width="1.1"/>
<line x1="63.8" y1="603.3000000000001" x2="63.8" y2="605.9" stroke="#9a9a9a" stroke-width="0.9"/>
<line x1="117.3" y1="603.3000000000001" x2="117.3" y2="605.9" stroke="#9a9a9a" stroke-width="0.9"/>
<line x1="63.4" y1="608.2" x2="97" y2="608.2" stroke="#9a9a9a" stroke-width="1.1"/>
<line x1="63.8" y1="606.9000000000001" x2="63.8" y2="609.5" stroke="#9a9a9a" stroke-width="0.9"/>
<line x1="96.6" y1="606.9000000000001" x2="96.6" y2="609.5" stroke="#9a9a9a" stroke-width="0.9"/>
<text x="101.1" y="597.84" text-anchor="middle" font-family="Liberation Sans" font-size="7.5" letter-spacing="0.6" fill="#333">**</text>
<text transform="translate(7.8,662.7) rotate(-90) scale(1,0.93)" text-anchor="middle" font-family="Liberation Sans" font-weight="bold" font-size="8.8" fill="#231f20">% Dcx positive cells</text>
<text transform="translate(42.10,727.90) scale(1,1.0) rotate(-45)" text-anchor="end" font-family="Liberation Sans" font-weight="bold" font-size="8.1" fill="#231f20">c</text>
<text transform="translate(66.90,729.40) scale(1,1.0) rotate(-45)" text-anchor="end" font-family="Liberation Sans" font-weight="bold" font-size="8.1" fill="#231f20">IFN-<tspan font-family="Liberation Serif" font-weight="normal">&#945;</tspan>50000 pg/ml</text>
<text transform="translate(94.75,729.40) scale(1,1.0) rotate(-45)" text-anchor="end" font-family="Liberation Sans" font-weight="bold" font-size="8.1" fill="#231f20">IFN-<tspan font-family="Liberation Serif" font-weight="normal">&#945;</tspan>+5HEPE 3000pg/ul</text>
<text transform="translate(121.20,729.40) scale(1,1.0) rotate(-45)" text-anchor="end" font-family="Liberation Sans" font-weight="bold" font-size="8.1" fill="#231f20">IFN-<tspan font-family="Liberation Serif" font-weight="normal">&#945;</tspan>+18HEPE 8000pg/ul</text>
<text transform="translate(147.60,729.40) scale(1,1.0) rotate(-45)" text-anchor="end" font-family="Liberation Sans" font-weight="bold" font-size="8.1" fill="#231f20">IFN-<tspan font-family="Liberation Serif" font-weight="normal">&#945;</tspan>+4HDHA 3000pg/ul</text>
<text transform="translate(173.85,729.40) scale(1,1.0) rotate(-45)" text-anchor="end" font-family="Liberation Sans" font-weight="bold" font-size="8.1" fill="#231f20">IFN-<tspan font-family="Liberation Serif" font-weight="normal">&#945;</tspan>+20HDHA 3000pg/ul</text>
<text x="250.4" y="577" font-family="Liberation Serif" font-weight="bold" font-size="25.5" fill="#231f20">h)</text>
<text transform="translate(350,584) scale(1.0,0.95)" font-family="Liberation Sans" font-weight="bold" font-size="10" fill="#231f20" stroke="#231f20" stroke-width="0.3">Map2</text>
<line x1="278.2" y1="609.75" x2="278.2" y2="718.25" stroke="#231f20" stroke-width="1.3"/>
<line x1="277.55" y1="717.6" x2="435.5" y2="717.6" stroke="#231f20" stroke-width="1.3"/>
<line x1="274.59999999999997" y1="717.60" x2="278.2" y2="717.60" stroke="#231f20" stroke-width="1.3"/>
<text transform="translate(273.90,720.10) scale(1,0.88)" text-anchor="end" font-family="Liberation Sans" font-weight="bold" font-size="8" fill="#231f20">0</text>
<line x1="274.59999999999997" y1="690.80" x2="278.2" y2="690.80" stroke="#231f20" stroke-width="1.3"/>
<text transform="translate(273.90,693.30) scale(1,0.88)" text-anchor="end" font-family="Liberation Sans" font-weight="bold" font-size="8" fill="#231f20">10</text>
<line x1="274.59999999999997" y1="664.00" x2="278.2" y2="664.00" stroke="#231f20" stroke-width="1.3"/>
<text transform="translate(273.90,666.50) scale(1,0.88)" text-anchor="end" font-family="Liberation Sans" font-weight="bold" font-size="8" fill="#231f20">20</text>
<line x1="274.59999999999997" y1="637.20" x2="278.2" y2="637.20" stroke="#231f20" stroke-width="1.3"/>
<text transform="translate(273.90,639.70) scale(1,0.88)" text-anchor="end" font-family="Liberation Sans" font-weight="bold" font-size="8" fill="#231f20">30</text>
<line x1="274.59999999999997" y1="610.40" x2="278.2" y2="610.40" stroke="#231f20" stroke-width="1.3"/>
<text transform="translate(273.90,612.90) scale(1,0.88)" text-anchor="end" font-family="Liberation Sans" font-weight="bold" font-size="8" fill="#231f20">40</text>
<rect x="282.9" y="623.6" width="16.80" height="94.00" fill="#231f20"/>
<line x1="291.30" y1="618.2" x2="291.30" y2="623.6" stroke="#231f20" stroke-width="1.6"/>
<line x1="286.93" y1="618.50" x2="295.67" y2="618.50" stroke="#231f20" stroke-width="1.6"/>
<line x1="291.30" y1="717.6" x2="291.30" y2="720.6" stroke="#231f20" stroke-width="1.3"/>
<rect x="308.8" y="656.9" width="17.00" height="60.70" fill="#231f20"/>
<line x1="317.30" y1="653.7" x2="317.30" y2="656.9" stroke="#231f20" stroke-width="1.6"/>
<line x1="312.88" y1="654.00" x2="321.72" y2="654.00" stroke="#231f20" stroke-width="1.6"/>
<line x1="317.30" y1="717.6" x2="317.30" y2="720.6" stroke="#231f20" stroke-width="1.3"/>
<text x="317.30" y="654.04" text-anchor="middle" font-family="Liberation Sans" font-size="7.5" letter-spacing="0.6" fill="#333">**</text>
<rect x="335" y="628.7" width="17.10" height="88.90" fill="#231f20"/>
<line x1="343.55" y1="625" x2="343.55" y2="628.7" stroke="#231f20" stroke-width="1.6"/>
<line x1="339.10" y1="625.30" x2="348.00" y2="625.30" stroke="#231f20" stroke-width="1.6"/>
<line x1="343.55" y1="717.6" x2="343.55" y2="720.6" stroke="#231f20" stroke-width="1.3"/>
<rect x="361.2" y="630.1" width="17.10" height="87.50" fill="#231f20"/>
<line x1="369.75" y1="626.6" x2="369.75" y2="630.1" stroke="#231f20" stroke-width="1.6"/>
<line x1="365.30" y1="626.90" x2="374.20" y2="626.90" stroke="#231f20" stroke-width="1.6"/>
<line x1="369.75" y1="717.6" x2="369.75" y2="720.6" stroke="#231f20" stroke-width="1.3"/>
<rect x="387.1" y="629.9" width="17.50" height="87.70" fill="#231f20"/>
<line x1="395.85" y1="626" x2="395.85" y2="629.9" stroke="#231f20" stroke-width="1.6"/>
<line x1="391.30" y1="626.30" x2="400.40" y2="626.30" stroke="#231f20" stroke-width="1.6"/>
<line x1="395.85" y1="717.6" x2="395.85" y2="720.6" stroke="#231f20" stroke-width="1.3"/>
<rect x="413.4" y="630.8" width="17.30" height="86.80" fill="#231f20"/>
<line x1="422.05" y1="626.9" x2="422.05" y2="630.8" stroke="#231f20" stroke-width="1.6"/>
<line x1="417.55" y1="627.20" x2="426.55" y2="627.20" stroke="#231f20" stroke-width="1.6"/>
<line x1="422.05" y1="717.6" x2="422.05" y2="720.6" stroke="#231f20" stroke-width="1.3"/>
<line x1="317.6" y1="597.9" x2="419" y2="597.9" stroke="#9a9a9a" stroke-width="1.1"/>
<line x1="318.0" y1="596.6" x2="318.0" y2="599.1999999999999" stroke="#9a9a9a" stroke-width="0.9"/>
<line x1="418.6" y1="596.6" x2="418.6" y2="599.1999999999999" stroke="#9a9a9a" stroke-width="0.9"/>
<line x1="317.6" y1="601.7" x2="400.9" y2="601.7" stroke="#9a9a9a" stroke-width="1.1"/>
<line x1="318.0" y1="600.4000000000001" x2="318.0" y2="603.0" stroke="#9a9a9a" stroke-width="0.9"/>
<line x1="400.5" y1="600.4000000000001" x2="400.5" y2="603.0" stroke="#9a9a9a" stroke-width="0.9"/>
<line x1="317.6" y1="604.8" x2="370.8" y2="604.8" stroke="#9a9a9a" stroke-width="1.1"/>
<line x1="318.0" y1="603.5" x2="318.0" y2="606.0999999999999" stroke="#9a9a9a" stroke-width="0.9"/>
<line x1="370.40000000000003" y1="603.5" x2="370.40000000000003" y2="606.0999999999999" stroke="#9a9a9a" stroke-width="0.9"/>
<line x1="317.6" y1="608.3" x2="350.7" y2="608.3" stroke="#9a9a9a" stroke-width="1.1"/>
<line x1="318.0" y1="607.0" x2="318.0" y2="609.5999999999999" stroke="#9a9a9a" stroke-width="0.9"/>
<line x1="350.3" y1="607.0" x2="350.3" y2="609.5999999999999" stroke="#9a9a9a" stroke-width="0.9"/>
<text x="354.6" y="597.84" text-anchor="middle" font-family="Liberation Sans" font-size="7.5" letter-spacing="0.6" fill="#333">**</text>
<text transform="translate(258.8,664.3) rotate(-90) scale(1,0.8)" text-anchor="middle" font-family="Liberation Sans" font-weight="bold" font-size="9" fill="#231f20">% MAP2 positive cells</text>
<text transform="translate(293.90,728.20) scale(1,1.0) rotate(-45)" text-anchor="end" font-family="Liberation Sans" font-weight="bold" font-size="8.1" fill="#231f20">c</text>
<text transform="translate(318.20,729.70) scale(1,1.0) rotate(-45)" text-anchor="end" font-family="Liberation Sans" font-weight="bold" font-size="8.1" fill="#231f20">IFN-<tspan font-family="Liberation Serif" font-weight="normal">&#945;</tspan>50000 pg/ml</text>
<text transform="translate(346.15,729.70) scale(1,1.0) rotate(-45)" text-anchor="end" font-family="Liberation Sans" font-weight="bold" font-size="8.1" fill="#231f20">IFN-<tspan font-family="Liberation Serif" font-weight="normal">&#945;</tspan>+5HEPE 3000pg/ul</text>
<text transform="translate(372.35,729.70) scale(1,1.0) rotate(-45)" text-anchor="end" font-family="Liberation Sans" font-weight="bold" font-size="8.1" fill="#231f20">IFN-<tspan font-family="Liberation Serif" font-weight="normal">&#945;</tspan>+18HEPE 8000pg/ul</text>
<text transform="translate(398.45,729.70) scale(1,1.0) rotate(-45)" text-anchor="end" font-family="Liberation Sans" font-weight="bold" font-size="8.1" fill="#231f20">IFN-<tspan font-family="Liberation Serif" font-weight="normal">&#945;</tspan>+4HDHA 3000pg/ul</text>
<text transform="translate(424.65,729.70) scale(1,1.0) rotate(-45)" text-anchor="end" font-family="Liberation Sans" font-weight="bold" font-size="8.1" fill="#231f20">IFN-<tspan font-family="Liberation Serif" font-weight="normal">&#945;</tspan>+20HDHA 3000pg/ul</text>
<text x="488.3" y="576.1" font-family="Liberation Serif" font-weight="bold" font-size="25.5" fill="#231f20">i)</text>
<text transform="translate(588.3,578.9) scale(1.0,0.95)" font-family="Liberation Sans" font-weight="bold" font-size="10" fill="#231f20" stroke="#231f20" stroke-width="0.3">CC3</text>
<line x1="515.6" y1="606.40" x2="515.6" y2="714.45" stroke="#231f20" stroke-width="1.3"/>
<line x1="514.95" y1="713.8" x2="672.6" y2="713.8" stroke="#231f20" stroke-width="1.3"/>
<line x1="512.0" y1="713.80" x2="515.6" y2="713.80" stroke="#231f20" stroke-width="1.3"/>
<text transform="translate(511.30,716.30) scale(1,0.88)" text-anchor="end" font-family="Liberation Sans" font-weight="bold" font-size="8" fill="#231f20">0</text>
<line x1="512.0" y1="692.45" x2="515.6" y2="692.45" stroke="#231f20" stroke-width="1.3"/>
<text transform="translate(511.30,694.95) scale(1,0.88)" text-anchor="end" font-family="Liberation Sans" font-weight="bold" font-size="8" fill="#231f20">5</text>
<line x1="512.0" y1="671.10" x2="515.6" y2="671.10" stroke="#231f20" stroke-width="1.3"/>
<text transform="translate(511.30,673.60) scale(1,0.88)" text-anchor="end" font-family="Liberation Sans" font-weight="bold" font-size="8" fill="#231f20">10</text>
<line x1="512.0" y1="649.75" x2="515.6" y2="649.75" stroke="#231f20" stroke-width="1.3"/>
<text transform="translate(511.30,652.25) scale(1,0.88)" text-anchor="end" font-family="Liberation Sans" font-weight="bold" font-size="8" fill="#231f20">15</text>
<line x1="512.0" y1="628.40" x2="515.6" y2="628.40" stroke="#231f20" stroke-width="1.3"/>
<text transform="translate(511.30,630.90) scale(1,0.88)" text-anchor="end" font-family="Liberation Sans" font-weight="bold" font-size="8" fill="#231f20">20</text>
<line x1="512.0" y1="607.05" x2="515.6" y2="607.05" stroke="#231f20" stroke-width="1.3"/>
<text transform="translate(511.30,609.55) scale(1,0.88)" text-anchor="end" font-family="Liberation Sans" font-weight="bold" font-size="8" fill="#231f20">25</text>
<rect x="520.3" y="664.6" width="16.60" height="49.20" fill="#231f20"/>
<line x1="528.60" y1="661.6" x2="528.60" y2="664.6" stroke="#231f20" stroke-width="1.6"/>
<line x1="524.28" y1="661.90" x2="532.92" y2="661.90" stroke="#231f20" stroke-width="1.6"/>
<line x1="528.60" y1="713.8" x2="528.60" y2="716.8" stroke="#231f20" stroke-width="1.3"/>
<rect x="546.2" y="625.7" width="16.70" height="88.10" fill="#231f20"/>
<line x1="554.55" y1="619.6" x2="554.55" y2="625.7" stroke="#231f20" stroke-width="1.6"/>
<line x1="550.21" y1="619.90" x2="558.89" y2="619.90" stroke="#231f20" stroke-width="1.6"/>
<line x1="554.55" y1="713.8" x2="554.55" y2="716.8" stroke="#231f20" stroke-width="1.3"/>
<text x="554.55" y="619.04" text-anchor="middle" font-family="Liberation Sans" font-size="7.5" letter-spacing="0.6" fill="#333">**</text>
<rect x="572.2" y="631.3" width="17.00" height="82.50" fill="#231f20"/>
<line x1="580.70" y1="622.8" x2="580.70" y2="631.3" stroke="#231f20" stroke-width="1.6"/>
<line x1="576.28" y1="623.10" x2="585.12" y2="623.10" stroke="#231f20" stroke-width="1.6"/>
<line x1="580.70" y1="713.8" x2="580.70" y2="716.8" stroke="#231f20" stroke-width="1.3"/>
<text x="580.70" y="624.64" text-anchor="middle" font-family="Liberation Sans" font-size="7.5" letter-spacing="0.6" fill="#333">**</text>
<rect x="598.3" y="626.2" width="17.20" height="87.60" fill="#231f20"/>
<line x1="606.90" y1="624.5" x2="606.90" y2="626.2" stroke="#231f20" stroke-width="1.6"/>
<line x1="602.43" y1="624.80" x2="611.37" y2="624.80" stroke="#231f20" stroke-width="1.6"/>
<line x1="606.90" y1="713.8" x2="606.90" y2="716.8" stroke="#231f20" stroke-width="1.3"/>
<text x="606.90" y="625.14" text-anchor="middle" font-family="Liberation Sans" font-size="7.5" letter-spacing="0.6" fill="#333">**</text>
<rect x="624.2" y="653.7" width="17.40" height="60.10" fill="#231f20"/>
<line x1="632.90" y1="650.7" x2="632.90" y2="653.7" stroke="#231f20" stroke-width="1.6"/>
<line x1="628.38" y1="651.00" x2="637.42" y2="651.00" stroke="#231f20" stroke-width="1.6"/>
<line x1="632.90" y1="713.8" x2="632.90" y2="716.8" stroke="#231f20" stroke-width="1.3"/>
<rect x="650.5" y="654.6" width="17.00" height="59.20" fill="#231f20"/>
<line x1="659.00" y1="650.2" x2="659.00" y2="654.6" stroke="#231f20" stroke-width="1.6"/>
<line x1="654.58" y1="650.50" x2="663.42" y2="650.50" stroke="#231f20" stroke-width="1.6"/>
<line x1="659.00" y1="713.8" x2="659.00" y2="716.8" stroke="#231f20" stroke-width="1.3"/>
<line x1="548.3" y1="597.1" x2="657.9" y2="597.1" stroke="#9a9a9a" stroke-width="1.1"/>
<line x1="548.6999999999999" y1="595.8000000000001" x2="548.6999999999999" y2="598.4" stroke="#9a9a9a" stroke-width="0.9"/>
<line x1="657.5" y1="595.8000000000001" x2="657.5" y2="598.4" stroke="#9a9a9a" stroke-width="0.9"/>
<line x1="548.3" y1="601.7" x2="632.4" y2="601.7" stroke="#9a9a9a" stroke-width="1.1"/>
<line x1="548.6999999999999" y1="600.4000000000001" x2="548.6999999999999" y2="603.0" stroke="#9a9a9a" stroke-width="0.9"/>
<line x1="632.0" y1="600.4000000000001" x2="632.0" y2="603.0" stroke="#9a9a9a" stroke-width="0.9"/>
<text x="598.5" y="597.64" text-anchor="middle" font-family="Liberation Sans" font-size="7.5" letter-spacing="0.6" fill="#333">**</text>
<text transform="translate(495.6,660.6) rotate(-90) scale(1,0.95)" text-anchor="middle" font-family="Liberation Sans" font-weight="bold" font-size="9" fill="#231f20">% CC3 positive cells</text>
<text transform="translate(531.20,724.40) scale(1,1.0) rotate(-45)" text-anchor="end" font-family="Liberation Sans" font-weight="bold" font-size="8.1" fill="#231f20">c</text>
<text transform="translate(555.45,725.90) scale(1,1.0) rotate(-45)" text-anchor="end" font-family="Liberation Sans" font-weight="bold" font-size="8.1" fill="#231f20">IFN-<tspan font-family="Liberation Serif" font-weight="normal">&#945;</tspan>50000 pg/ml</text>
<text transform="translate(583.30,725.90) scale(1,1.0) rotate(-45)" text-anchor="end" font-family="Liberation Sans" font-weight="bold" font-size="8.1" fill="#231f20">IFN-<tspan font-family="Liberation Serif" font-weight="normal">&#945;</tspan>+5HEPE 3000pg/ul</text>
<text transform="translate(609.50,725.90) scale(1,1.0) rotate(-45)" text-anchor="end" font-family="Liberation Sans" font-weight="bold" font-size="8.1" fill="#231f20">IFN-<tspan font-family="Liberation Serif" font-weight="normal">&#945;</tspan>+18HEPE 8000pg/ul</text>
<text transform="translate(635.50,725.90) scale(1,1.0) rotate(-45)" text-anchor="end" font-family="Liberation Sans" font-weight="bold" font-size="8.1" fill="#231f20">IFN-<tspan font-family="Liberation Serif" font-weight="normal">&#945;</tspan>+4HDHA 3000pg/ul</text>
<text transform="translate(661.60,725.90) scale(1,1.0) rotate(-45)" text-anchor="end" font-family="Liberation Sans" font-weight="bold" font-size="8.1" fill="#231f20">IFN-<tspan font-family="Liberation Serif" font-weight="normal">&#945;</tspan>+20HDHA 3000pg/ul</text>
<text x="9" y="861.2" font-family="Liberation Serif" font-weight="bold" font-size="25.5" fill="#231f20">j)</text>
<text transform="translate(100.3,848) scale(1.03,0.88)" font-family="Liberation Sans" font-weight="bold" font-size="10" fill="#231f20" stroke="#231f20" stroke-width="0.3">DCX</text>
<line x1="32.9" y1="881.55" x2="32.9" y2="982.85" stroke="#231f20" stroke-width="1.3"/>
<line x1="32.25" y1="982.2" x2="190" y2="982.2" stroke="#231f20" stroke-width="1.3"/>
<line x1="29.299999999999997" y1="982.20" x2="32.9" y2="982.20" stroke="#231f20" stroke-width="1.3"/>
<text transform="translate(28.60,984.55) scale(1,0.85)" text-anchor="end" font-family="Liberation Sans" font-weight="bold" font-size="7.8" fill="#231f20">0</text>
<line x1="29.299999999999997" y1="962.20" x2="32.9" y2="962.20" stroke="#231f20" stroke-width="1.3"/>
<text transform="translate(28.60,964.55) scale(1,0.85)" text-anchor="end" font-family="Liberation Sans" font-weight="bold" font-size="7.8" fill="#231f20">10</text>
<line x1="29.299999999999997" y1="942.20" x2="32.9" y2="942.20" stroke="#231f20" stroke-width="1.3"/>
<text transform="translate(28.60,944.55) scale(1,0.85)" text-anchor="end" font-family="Liberation Sans" font-weight="bold" font-size="7.8" fill="#231f20">20</text>
<line x1="29.299999999999997" y1="922.20" x2="32.9" y2="922.20" stroke="#231f20" stroke-width="1.3"/>
<text transform="translate(28.60,924.55) scale(1,0.85)" text-anchor="end" font-family="Liberation Sans" font-weight="bold" font-size="7.8" fill="#231f20">30</text>
<line x1="29.299999999999997" y1="902.20" x2="32.9" y2="902.20" stroke="#231f20" stroke-width="1.3"/>
<text transform="translate(28.60,904.55) scale(1,0.85)" text-anchor="end" font-family="Liberation Sans" font-weight="bold" font-size="7.8" fill="#231f20">40</text>
<line x1="29.299999999999997" y1="882.20" x2="32.9" y2="882.20" stroke="#231f20" stroke-width="1.3"/>
<text transform="translate(28.60,884.55) scale(1,0.85)" text-anchor="end" font-family="Liberation Sans" font-weight="bold" font-size="7.8" fill="#231f20">50</text>
<rect x="37.3" y="932.1" width="17.60" height="50.10" fill="#231f20"/>
<line x1="46.10" y1="931.2" x2="46.10" y2="932.1" stroke="#231f20" stroke-width="1.6"/>
<line x1="41.52" y1="931.50" x2="50.68" y2="931.50" stroke="#231f20" stroke-width="1.6"/>
<line x1="46.10" y1="982.2" x2="46.10" y2="985.2" stroke="#231f20" stroke-width="1.3"/>
<rect x="63.4" y="953.4" width="17.50" height="28.80" fill="#231f20"/>
<line x1="72.15" y1="949.6" x2="72.15" y2="953.4" stroke="#231f20" stroke-width="1.6"/>
<line x1="67.60" y1="949.90" x2="76.70" y2="949.90" stroke="#231f20" stroke-width="1.6"/>
<line x1="72.15" y1="982.2" x2="72.15" y2="985.2" stroke="#231f20" stroke-width="1.3"/>
<text x="72.15" y="948.78" text-anchor="middle" font-family="Liberation Sans" font-size="7" letter-spacing="0.6" fill="#333">**</text>
<rect x="89.4" y="920.7" width="17.70" height="61.50" fill="#231f20"/>
<line x1="98.25" y1="918.3" x2="98.25" y2="920.7" stroke="#231f20" stroke-width="1.6"/>
<line x1="93.65" y1="918.60" x2="102.85" y2="918.60" stroke="#231f20" stroke-width="1.6"/>
<line x1="98.25" y1="982.2" x2="98.25" y2="985.2" stroke="#231f20" stroke-width="1.3"/>
<text x="98.25" y="918.38" text-anchor="middle" font-family="Liberation Sans" font-size="7" letter-spacing="0.6" fill="#333">*</text>
<rect x="115.6" y="918.8" width="17.50" height="63.40" fill="#231f20"/>
<line x1="124.35" y1="915.8" x2="124.35" y2="918.8" stroke="#231f20" stroke-width="1.6"/>
<line x1="119.80" y1="916.10" x2="128.90" y2="916.10" stroke="#231f20" stroke-width="1.6"/>
<line x1="124.35" y1="982.2" x2="124.35" y2="985.2" stroke="#231f20" stroke-width="1.3"/>
<text x="124.35" y="916.28" text-anchor="middle" font-family="Liberation Sans" font-size="7" letter-spacing="0.6" fill="#333">*</text>
<rect x="142" y="907.8" width="17.30" height="74.40" fill="#231f20"/>
<line x1="150.65" y1="905" x2="150.65" y2="907.8" stroke="#231f20" stroke-width="1.6"/>
<line x1="146.15" y1="905.30" x2="155.15" y2="905.30" stroke="#231f20" stroke-width="1.6"/>
<line x1="150.65" y1="982.2" x2="150.65" y2="985.2" stroke="#231f20" stroke-width="1.3"/>
<text x="150.65" y="905.18" text-anchor="middle" font-family="Liberation Sans" font-size="7" letter-spacing="0.6" fill="#333">**</text>
<rect x="168.2" y="907.8" width="17.40" height="74.40" fill="#231f20"/>
<line x1="176.90" y1="903.4" x2="176.90" y2="907.8" stroke="#231f20" stroke-width="1.6"/>
<line x1="172.38" y1="903.70" x2="181.42" y2="903.70" stroke="#231f20" stroke-width="1.6"/>
<line x1="176.90" y1="982.2" x2="176.90" y2="985.2" stroke="#231f20" stroke-width="1.3"/>
<text x="176.90" y="904.38" text-anchor="middle" font-family="Liberation Sans" font-size="7" letter-spacing="0.6" fill="#333">**</text>
<line x1="74.2" y1="868.3" x2="121.3" y2="868.3" stroke="#888" stroke-width="1.1"/>
<line x1="74.60000000000001" y1="867.0" x2="74.60000000000001" y2="869.5999999999999" stroke="#888" stroke-width="0.9"/>
<line x1="120.89999999999999" y1="867.0" x2="120.89999999999999" y2="869.5999999999999" stroke="#888" stroke-width="0.9"/>
<line x1="74.2" y1="872.4" x2="95.1" y2="872.4" stroke="#888" stroke-width="1.1"/>
<line x1="74.60000000000001" y1="871.1" x2="74.60000000000001" y2="873.6999999999999" stroke="#888" stroke-width="0.9"/>
<line x1="94.69999999999999" y1="871.1" x2="94.69999999999999" y2="873.6999999999999" stroke="#888" stroke-width="0.9"/>
<line x1="123.6" y1="883.1" x2="172.9" y2="883.1" stroke="#777" stroke-width="1.1"/>
<line x1="124.0" y1="881.8000000000001" x2="124.0" y2="884.4" stroke="#777" stroke-width="0.9"/>
<line x1="172.5" y1="881.8000000000001" x2="172.5" y2="884.4" stroke="#777" stroke-width="0.9"/>
<line x1="102.1" y1="886.6" x2="150.5" y2="886.6" stroke="#bbb" stroke-width="1.1"/>
<line x1="102.5" y1="885.3000000000001" x2="102.5" y2="887.9" stroke="#bbb" stroke-width="0.9"/>
<line x1="150.1" y1="885.3000000000001" x2="150.1" y2="887.9" stroke="#bbb" stroke-width="0.9"/>
<text x="92.8" y="868.28" text-anchor="middle" font-family="Liberation Sans" font-size="7" letter-spacing="0.6" fill="#333">***</text>
<text x="137.4" y="883.88" text-anchor="middle" font-family="Liberation Sans" font-size="7" letter-spacing="0.6" fill="#333">*</text>
<text transform="translate(14.8,931.9) rotate(-90) scale(1,0.92)" text-anchor="middle" font-family="Liberation Sans" font-weight="bold" font-size="8.4" fill="#231f20">% Dcx positive cells</text>
<text transform="translate(48.70,991.40) scale(1,0.95) rotate(-45)" text-anchor="end" font-family="Liberation Sans" font-weight="bold" font-size="7.85" fill="#231f20">c</text>
<text transform="translate(73.05,992.90) scale(1,0.95) rotate(-45)" text-anchor="end" font-family="Liberation Sans" font-weight="bold" font-size="7.85" fill="#231f20">IL1<tspan font-family="Liberation Serif" font-weight="normal">&#946;</tspan>10000 pg/ml</text>
<text transform="translate(100.85,992.90) scale(1,0.95) rotate(-45)" text-anchor="end" font-family="Liberation Sans" font-weight="bold" font-size="7.85" fill="#231f20">IL1<tspan font-family="Liberation Serif" font-weight="normal">&#946;</tspan>+17(18) EpETE 0.08pg/ul</text>
<text transform="translate(126.95,992.90) scale(1,0.95) rotate(-45)" text-anchor="end" font-family="Liberation Sans" font-weight="bold" font-size="7.85" fill="#231f20">IL1<tspan font-family="Liberation Serif" font-weight="normal">&#946;</tspan>+19(20) EpDPA 0.3pg/ul</text>
<text transform="translate(153.25,992.90) scale(1,0.95) rotate(-45)" text-anchor="end" font-family="Liberation Sans" font-weight="bold" font-size="7.85" fill="#231f20">IL1<tspan font-family="Liberation Serif" font-weight="normal">&#946;</tspan>+17(18) EpETE+ TPPU</text>
<text transform="translate(179.50,992.90) scale(1,0.95) rotate(-45)" text-anchor="end" font-family="Liberation Sans" font-weight="bold" font-size="7.85" fill="#231f20">IL1<tspan font-family="Liberation Serif" font-weight="normal">&#946;</tspan>+19(20) EpDPA+ TPPU</text>
<text x="246.2" y="863.6" font-family="Liberation Serif" font-weight="bold" font-size="25.5" fill="#231f20">k)</text>
<text transform="translate(341.2,857.4) scale(1.03,0.88)" font-family="Liberation Sans" font-weight="bold" font-size="10" fill="#231f20" stroke="#231f20" stroke-width="0.3">Map2</text>
<line x1="273.1" y1="893.55" x2="273.1" y2="994.15" stroke="#231f20" stroke-width="1.3"/>
<line x1="272.45" y1="993.5" x2="428" y2="993.5" stroke="#231f20" stroke-width="1.3"/>
<line x1="269.5" y1="993.50" x2="273.1" y2="993.50" stroke="#231f20" stroke-width="1.3"/>
<text transform="translate(268.80,995.85) scale(1,0.85)" text-anchor="end" font-family="Liberation Sans" font-weight="bold" font-size="7.8" fill="#231f20">0</text>
<line x1="269.5" y1="960.40" x2="273.1" y2="960.40" stroke="#231f20" stroke-width="1.3"/>
<text transform="translate(268.80,962.75) scale(1,0.85)" text-anchor="end" font-family="Liberation Sans" font-weight="bold" font-size="7.8" fill="#231f20">20</text>
<line x1="269.5" y1="927.30" x2="273.1" y2="927.30" stroke="#231f20" stroke-width="1.3"/>
<text transform="translate(268.80,929.65) scale(1,0.85)" text-anchor="end" font-family="Liberation Sans" font-weight="bold" font-size="7.8" fill="#231f20">40</text>
<line x1="269.5" y1="894.20" x2="273.1" y2="894.20" stroke="#231f20" stroke-width="1.3"/>
<text transform="translate(268.80,896.55) scale(1,0.85)" text-anchor="end" font-family="Liberation Sans" font-weight="bold" font-size="7.8" fill="#231f20">60</text>
<rect x="277.1" y="937.6" width="17.20" height="55.90" fill="#231f20"/>
<line x1="285.70" y1="936" x2="285.70" y2="937.6" stroke="#231f20" stroke-width="1.6"/>
<line x1="281.23" y1="936.30" x2="290.17" y2="936.30" stroke="#231f20" stroke-width="1.6"/>
<line x1="285.70" y1="993.5" x2="285.70" y2="996.5" stroke="#231f20" stroke-width="1.3"/>
<rect x="303.1" y="965.7" width="17.40" height="27.80" fill="#231f20"/>
<line x1="311.80" y1="961.5" x2="311.80" y2="965.7" stroke="#231f20" stroke-width="1.6"/>
<line x1="307.28" y1="961.80" x2="316.32" y2="961.80" stroke="#231f20" stroke-width="1.6"/>
<line x1="311.80" y1="993.5" x2="311.80" y2="996.5" stroke="#231f20" stroke-width="1.3"/>
<text x="311.80" y="961.98" text-anchor="middle" font-family="Liberation Sans" font-size="7" letter-spacing="0.6" fill="#333">**</text>
<rect x="329.1" y="921.9" width="17.30" height="71.60" fill="#231f20"/>
<line x1="337.75" y1="920.4" x2="337.75" y2="921.9" stroke="#231f20" stroke-width="1.6"/>
<line x1="333.25" y1="920.70" x2="342.25" y2="920.70" stroke="#231f20" stroke-width="1.6"/>
<line x1="337.75" y1="993.5" x2="337.75" y2="996.5" stroke="#231f20" stroke-width="1.3"/>
<text x="337.75" y="920.58" text-anchor="middle" font-family="Liberation Sans" font-size="7" letter-spacing="0.6" fill="#333">*</text>
<rect x="355" y="925.7" width="17.00" height="67.80" fill="#231f20"/>
<line x1="363.50" y1="923.6" x2="363.50" y2="925.7" stroke="#231f20" stroke-width="1.6"/>
<line x1="359.08" y1="923.90" x2="367.92" y2="923.90" stroke="#231f20" stroke-width="1.6"/>
<line x1="363.50" y1="993.5" x2="363.50" y2="996.5" stroke="#231f20" stroke-width="1.3"/>
<text x="363.50" y="923.68" text-anchor="middle" font-family="Liberation Sans" font-size="7" letter-spacing="0.6" fill="#333">*</text>
<rect x="381" y="911.3" width="17.00" height="82.20" fill="#231f20"/>
<line x1="389.50" y1="907.3" x2="389.50" y2="911.3" stroke="#231f20" stroke-width="1.6"/>
<line x1="385.08" y1="907.60" x2="393.92" y2="907.60" stroke="#231f20" stroke-width="1.6"/>
<line x1="389.50" y1="993.5" x2="389.50" y2="996.5" stroke="#231f20" stroke-width="1.3"/>
<text x="389.50" y="907.38" text-anchor="middle" font-family="Liberation Sans" font-size="7" letter-spacing="0.6" fill="#333">*</text>
<rect x="406.7" y="913.6" width="17.50" height="79.90" fill="#231f20"/>
<line x1="415.45" y1="910.1" x2="415.45" y2="913.6" stroke="#231f20" stroke-width="1.6"/>
<line x1="410.90" y1="910.40" x2="420.00" y2="910.40" stroke="#231f20" stroke-width="1.6"/>
<line x1="415.45" y1="993.5" x2="415.45" y2="996.5" stroke="#231f20" stroke-width="1.3"/>
<text x="415.45" y="910.48" text-anchor="middle" font-family="Liberation Sans" font-size="7" letter-spacing="0.6" fill="#333">*</text>
<line x1="312.4" y1="881.6" x2="359.4" y2="881.6" stroke="#888" stroke-width="1.1"/>
<line x1="312.79999999999995" y1="880.3000000000001" x2="312.79999999999995" y2="882.9" stroke="#888" stroke-width="0.9"/>
<line x1="359.0" y1="880.3000000000001" x2="359.0" y2="882.9" stroke="#888" stroke-width="0.9"/>
<line x1="312.4" y1="886" x2="333.7" y2="886" stroke="#888" stroke-width="1.1"/>
<line x1="312.79999999999995" y1="884.7" x2="312.79999999999995" y2="887.3" stroke="#888" stroke-width="0.9"/>
<line x1="333.3" y1="884.7" x2="333.3" y2="887.3" stroke="#888" stroke-width="0.9"/>
<line x1="369.6" y1="895.2" x2="416.7" y2="895.2" stroke="#888" stroke-width="1.1"/>
<line x1="370.0" y1="893.9000000000001" x2="370.0" y2="896.5" stroke="#888" stroke-width="0.9"/>
<line x1="416.3" y1="893.9000000000001" x2="416.3" y2="896.5" stroke="#888" stroke-width="0.9"/>
<line x1="338.4" y1="897.9" x2="383.4" y2="897.9" stroke="#aaa" stroke-width="1.1"/>
<line x1="338.79999999999995" y1="896.6" x2="338.79999999999995" y2="899.1999999999999" stroke="#aaa" stroke-width="0.9"/>
<line x1="383.0" y1="896.6" x2="383.0" y2="899.1999999999999" stroke="#aaa" stroke-width="0.9"/>
<text x="331.2" y="881.68" text-anchor="middle" font-family="Liberation Sans" font-size="7" letter-spacing="0.6" fill="#333">***</text>
<text x="377.3" y="895.98" text-anchor="middle" font-family="Liberation Sans" font-size="7" letter-spacing="0.6" fill="#333">*</text>
<text transform="translate(252.8,943.8) rotate(-90) scale(1,0.8)" text-anchor="middle" font-family="Liberation Sans" font-weight="bold" font-size="8.1" fill="#231f20">% MAP2 positive cells</text>
<text transform="translate(288.30,1002.70) scale(1,0.95) rotate(-45)" text-anchor="end" font-family="Liberation Sans" font-weight="bold" font-size="7.85" fill="#231f20">c</text>
<text transform="translate(312.70,1004.20) scale(1,0.95) rotate(-45)" text-anchor="end" font-family="Liberation Sans" font-weight="bold" font-size="7.85" fill="#231f20">IL1<tspan font-family="Liberation Serif" font-weight="normal">&#946;</tspan>10000 pg/ml</text>
<text transform="translate(340.35,1004.20) scale(1,0.95) rotate(-45)" text-anchor="end" font-family="Liberation Sans" font-weight="bold" font-size="7.85" fill="#231f20">IL1<tspan font-family="Liberation Serif" font-weight="normal">&#946;</tspan>+17(18) EpETE 0.08pg/ul</text>
<text transform="translate(366.10,1004.20) scale(1,0.95) rotate(-45)" text-anchor="end" font-family="Liberation Sans" font-weight="bold" font-size="7.85" fill="#231f20">IL1<tspan font-family="Liberation Serif" font-weight="normal">&#946;</tspan>+19(20) EpDPA 0.3pg/ul</text>
<text transform="translate(392.10,1004.20) scale(1,0.95) rotate(-45)" text-anchor="end" font-family="Liberation Sans" font-weight="bold" font-size="7.85" fill="#231f20">IL1<tspan font-family="Liberation Serif" font-weight="normal">&#946;</tspan>+17(18) EpETE+ TPPU</text>
<text transform="translate(418.05,1004.20) scale(1,0.95) rotate(-45)" text-anchor="end" font-family="Liberation Sans" font-weight="bold" font-size="7.85" fill="#231f20">IL1<tspan font-family="Liberation Serif" font-weight="normal">&#946;</tspan>+19(20) EpDPA+ TPPU</text>
<text x="486.3" y="854.7" font-family="Liberation Serif" font-weight="bold" font-size="25.5" fill="#231f20">l)</text>
<text transform="translate(577.2,857.6) scale(1.03,0.88)" font-family="Liberation Sans" font-weight="bold" font-size="10" fill="#231f20" stroke="#231f20" stroke-width="0.3">CC3</text>
<line x1="511.4" y1="891.75" x2="511.4" y2="992.75" stroke="#231f20" stroke-width="1.3"/>
<line x1="510.75" y1="992.1" x2="667.5" y2="992.1" stroke="#231f20" stroke-width="1.3"/>
<line x1="507.79999999999995" y1="992.10" x2="511.4" y2="992.10" stroke="#231f20" stroke-width="1.3"/>
<text transform="translate(507.10,994.45) scale(1,0.85)" text-anchor="end" font-family="Liberation Sans" font-weight="bold" font-size="7.8" fill="#231f20">0</text>
<line x1="507.79999999999995" y1="967.18" x2="511.4" y2="967.18" stroke="#231f20" stroke-width="1.3"/>
<text transform="translate(507.10,969.53) scale(1,0.85)" text-anchor="end" font-family="Liberation Sans" font-weight="bold" font-size="7.8" fill="#231f20">5</text>
<line x1="507.79999999999995" y1="942.25" x2="511.4" y2="942.25" stroke="#231f20" stroke-width="1.3"/>
<text transform="translate(507.10,944.60) scale(1,0.85)" text-anchor="end" font-family="Liberation Sans" font-weight="bold" font-size="7.8" fill="#231f20">10</text>
<line x1="507.79999999999995" y1="917.33" x2="511.4" y2="917.33" stroke="#231f20" stroke-width="1.3"/>
<text transform="translate(507.10,919.68) scale(1,0.85)" text-anchor="end" font-family="Liberation Sans" font-weight="bold" font-size="7.8" fill="#231f20">15</text>
<line x1="507.79999999999995" y1="892.40" x2="511.4" y2="892.40" stroke="#231f20" stroke-width="1.3"/>
<text transform="translate(507.10,894.75) scale(1,0.85)" text-anchor="end" font-family="Liberation Sans" font-weight="bold" font-size="7.8" fill="#231f20">20</text>
<rect x="516" y="937" width="16.90" height="55.10" fill="#231f20"/>
<line x1="524.45" y1="934.3" x2="524.45" y2="937" stroke="#231f20" stroke-width="1.6"/>
<line x1="520.06" y1="934.60" x2="528.84" y2="934.60" stroke="#231f20" stroke-width="1.6"/>
<line x1="524.45" y1="992.1" x2="524.45" y2="995.1" stroke="#231f20" stroke-width="1.3"/>
<rect x="541.7" y="921.4" width="17.40" height="70.70" fill="#231f20"/>
<line x1="550.40" y1="917.7" x2="550.40" y2="921.4" stroke="#231f20" stroke-width="1.6"/>
<line x1="545.88" y1="918.00" x2="554.92" y2="918.00" stroke="#231f20" stroke-width="1.6"/>
<line x1="550.40" y1="992.1" x2="550.40" y2="995.1" stroke="#231f20" stroke-width="1.3"/>
<text x="550.40" y="918.08" text-anchor="middle" font-family="Liberation Sans" font-size="7" letter-spacing="0.6" fill="#333">**</text>
<rect x="567.6" y="945.8" width="17.30" height="46.30" fill="#231f20"/>
<line x1="576.25" y1="942.1" x2="576.25" y2="945.8" stroke="#231f20" stroke-width="1.6"/>
<line x1="571.75" y1="942.40" x2="580.75" y2="942.40" stroke="#231f20" stroke-width="1.6"/>
<line x1="576.25" y1="992.1" x2="576.25" y2="995.1" stroke="#231f20" stroke-width="1.3"/>
<text x="576.25" y="942.98" text-anchor="middle" font-family="Liberation Sans" font-size="7" letter-spacing="0.6" fill="#333">*</text>
<rect x="593.1" y="945.2" width="17.60" height="46.90" fill="#231f20"/>
<line x1="601.90" y1="942.3" x2="601.90" y2="945.2" stroke="#231f20" stroke-width="1.6"/>
<line x1="597.32" y1="942.60" x2="606.48" y2="942.60" stroke="#231f20" stroke-width="1.6"/>
<line x1="601.90" y1="992.1" x2="601.90" y2="995.1" stroke="#231f20" stroke-width="1.3"/>
<text x="601.90" y="943.48" text-anchor="middle" font-family="Liberation Sans" font-size="7" letter-spacing="0.6" fill="#333">*</text>
<rect x="619.2" y="966" width="17.60" height="26.10" fill="#231f20"/>
<line x1="628.00" y1="963.1" x2="628.00" y2="966" stroke="#231f20" stroke-width="1.6"/>
<line x1="623.42" y1="963.40" x2="632.58" y2="963.40" stroke="#231f20" stroke-width="1.6"/>
<line x1="628.00" y1="992.1" x2="628.00" y2="995.1" stroke="#231f20" stroke-width="1.3"/>
<text x="628.00" y="964.28" text-anchor="middle" font-family="Liberation Sans" font-size="7" letter-spacing="0.6" fill="#333">***</text>
<rect x="645.2" y="967.5" width="17.30" height="24.60" fill="#231f20"/>
<line x1="653.85" y1="963.1" x2="653.85" y2="967.5" stroke="#231f20" stroke-width="1.6"/>
<line x1="649.35" y1="963.40" x2="658.35" y2="963.40" stroke="#231f20" stroke-width="1.6"/>
<line x1="653.85" y1="992.1" x2="653.85" y2="995.1" stroke="#231f20" stroke-width="1.3"/>
<text x="653.85" y="964.28" text-anchor="middle" font-family="Liberation Sans" font-size="7" letter-spacing="0.6" fill="#333">***</text>
<line x1="548.6" y1="892.2" x2="601.5" y2="892.2" stroke="#777" stroke-width="1.1"/>
<line x1="549.0" y1="890.9000000000001" x2="549.0" y2="893.5" stroke="#777" stroke-width="0.9"/>
<line x1="601.1" y1="890.9000000000001" x2="601.1" y2="893.5" stroke="#777" stroke-width="0.9"/>
<line x1="548.6" y1="894.6" x2="577.5" y2="894.6" stroke="#bbb" stroke-width="1.1"/>
<line x1="549.0" y1="893.3000000000001" x2="549.0" y2="895.9" stroke="#bbb" stroke-width="0.9"/>
<line x1="577.1" y1="893.3000000000001" x2="577.1" y2="895.9" stroke="#bbb" stroke-width="0.9"/>
<line x1="576.7" y1="916.4" x2="626.4" y2="916.4" stroke="#777" stroke-width="1.1"/>
<line x1="577.1" y1="915.1" x2="577.1" y2="917.6999999999999" stroke="#777" stroke-width="0.9"/>
<line x1="626.0" y1="915.1" x2="626.0" y2="917.6999999999999" stroke="#777" stroke-width="0.9"/>
<line x1="602.6" y1="917.8" x2="649.4" y2="917.8" stroke="#bbb" stroke-width="1.1"/>
<line x1="603.0" y1="916.5" x2="603.0" y2="919.0999999999999" stroke="#bbb" stroke-width="0.9"/>
<line x1="649.0" y1="916.5" x2="649.0" y2="919.0999999999999" stroke="#bbb" stroke-width="0.9"/>
<text x="578.3" y="892.78" text-anchor="middle" font-family="Liberation Sans" font-size="7" letter-spacing="0.6" fill="#333">***</text>
<text x="615.6" y="916.98" text-anchor="middle" font-family="Liberation Sans" font-size="7" letter-spacing="0.6" fill="#333">***</text>
<text transform="translate(491.9,942) rotate(-90) scale(1,0.95)" text-anchor="middle" font-family="Liberation Sans" font-weight="bold" font-size="8.2" fill="#231f20">% CC3 positive cells</text>
<text transform="translate(527.05,1001.30) scale(1,0.95) rotate(-45)" text-anchor="end" font-family="Liberation Sans" font-weight="bold" font-size="7.85" fill="#231f20">c</text>
<text transform="translate(551.30,1002.80) scale(1,0.95) rotate(-45)" text-anchor="end" font-family="Liberation Sans" font-weight="bold" font-size="7.85" fill="#231f20">IL1<tspan font-family="Liberation Serif" font-weight="normal">&#946;</tspan>10000 pg/ml</text>
<text transform="translate(578.85,1002.80) scale(1,0.95) rotate(-45)" text-anchor="end" font-family="Liberation Sans" font-weight="bold" font-size="7.85" fill="#231f20">IL1<tspan font-family="Liberation Serif" font-weight="normal">&#946;</tspan>+17(18) EpETE 0.08pg/ul</text>
<text transform="translate(604.50,1002.80) scale(1,0.95) rotate(-45)" text-anchor="end" font-family="Liberation Sans" font-weight="bold" font-size="7.85" fill="#231f20">IL1<tspan font-family="Liberation Serif" font-weight="normal">&#946;</tspan>+19(20) EpDPA 0.3pg/ul</text>
<text transform="translate(630.60,1002.80) scale(1,0.95) rotate(-45)" text-anchor="end" font-family="Liberation Sans" font-weight="bold" font-size="7.85" fill="#231f20">IL1<tspan font-family="Liberation Serif" font-weight="normal">&#946;</tspan>+17(18) EpETE+ TPPU</text>
<text transform="translate(656.45,1002.80) scale(1,0.95) rotate(-45)" text-anchor="end" font-family="Liberation Sans" font-weight="bold" font-size="7.85" fill="#231f20">IL1<tspan font-family="Liberation Serif" font-weight="normal">&#946;</tspan>+19(20) EpDPA+ TPPU</text>
<text x="7.7" y="1130.5" font-family="Liberation Serif" font-weight="bold" font-size="25.5" fill="#231f20">m)</text>
<text transform="translate(102.3,1141) scale(1.03,0.88)" font-family="Liberation Sans" font-weight="bold" font-size="10" fill="#231f20" stroke="#231f20" stroke-width="0.3">DCX</text>
<line x1="34.2" y1="1174.75" x2="34.2" y2="1277.05" stroke="#231f20" stroke-width="1.3"/>
<line x1="33.55" y1="1276.4" x2="192" y2="1276.4" stroke="#231f20" stroke-width="1.3"/>
<line x1="30.6" y1="1276.40" x2="34.2" y2="1276.40" stroke="#231f20" stroke-width="1.3"/>
<text transform="translate(29.90,1278.75) scale(1,0.85)" text-anchor="end" font-family="Liberation Sans" font-weight="bold" font-size="7.8" fill="#231f20">0</text>
<line x1="30.6" y1="1256.20" x2="34.2" y2="1256.20" stroke="#231f20" stroke-width="1.3"/>
<text transform="translate(29.90,1258.55) scale(1,0.85)" text-anchor="end" font-family="Liberation Sans" font-weight="bold" font-size="7.8" fill="#231f20">10</text>
<line x1="30.6" y1="1236.00" x2="34.2" y2="1236.00" stroke="#231f20" stroke-width="1.3"/>
<text transform="translate(29.90,1238.35) scale(1,0.85)" text-anchor="end" font-family="Liberation Sans" font-weight="bold" font-size="7.8" fill="#231f20">20</text>
<line x1="30.6" y1="1215.80" x2="34.2" y2="1215.80" stroke="#231f20" stroke-width="1.3"/>
<text transform="translate(29.90,1218.15) scale(1,0.85)" text-anchor="end" font-family="Liberation Sans" font-weight="bold" font-size="7.8" fill="#231f20">30</text>
<line x1="30.6" y1="1195.60" x2="34.2" y2="1195.60" stroke="#231f20" stroke-width="1.3"/>
<text transform="translate(29.90,1197.95) scale(1,0.85)" text-anchor="end" font-family="Liberation Sans" font-weight="bold" font-size="7.8" fill="#231f20">40</text>
<line x1="30.6" y1="1175.40" x2="34.2" y2="1175.40" stroke="#231f20" stroke-width="1.3"/>
<text transform="translate(29.90,1177.75) scale(1,0.85)" text-anchor="end" font-family="Liberation Sans" font-weight="bold" font-size="7.8" fill="#231f20">50</text>
<rect x="38.9" y="1225.3" width="17.30" height="51.10" fill="#231f20"/>
<line x1="47.55" y1="1224.1" x2="47.55" y2="1225.3" stroke="#231f20" stroke-width="1.6"/>
<line x1="43.05" y1="1224.40" x2="52.05" y2="1224.40" stroke="#231f20" stroke-width="1.6"/>
<line x1="47.55" y1="1276.4" x2="47.55" y2="1279.4" stroke="#231f20" stroke-width="1.3"/>
<rect x="65" y="1238.8" width="17.60" height="37.60" fill="#231f20"/>
<line x1="73.80" y1="1235.1" x2="73.80" y2="1238.8" stroke="#231f20" stroke-width="1.6"/>
<line x1="69.22" y1="1235.40" x2="78.38" y2="1235.40" stroke="#231f20" stroke-width="1.6"/>
<line x1="73.80" y1="1276.4" x2="73.80" y2="1279.4" stroke="#231f20" stroke-width="1.3"/>
<text x="73.80" y="1235.88" text-anchor="middle" font-family="Liberation Sans" font-size="7" letter-spacing="0.6" fill="#333">*</text>
<rect x="91.4" y="1211.9" width="17.60" height="64.50" fill="#231f20"/>
<line x1="100.20" y1="1208.2" x2="100.20" y2="1211.9" stroke="#231f20" stroke-width="1.6"/>
<line x1="95.62" y1="1208.50" x2="104.78" y2="1208.50" stroke="#231f20" stroke-width="1.6"/>
<line x1="100.20" y1="1276.4" x2="100.20" y2="1279.4" stroke="#231f20" stroke-width="1.3"/>
<text x="100.20" y="1207.78" text-anchor="middle" font-family="Liberation Sans" font-size="7" letter-spacing="0.6" fill="#333">*</text>
<rect x="118.1" y="1211.9" width="17.50" height="64.50" fill="#231f20"/>
<line x1="126.85" y1="1208.9" x2="126.85" y2="1211.9" stroke="#231f20" stroke-width="1.6"/>
<line x1="122.30" y1="1209.20" x2="131.40" y2="1209.20" stroke="#231f20" stroke-width="1.6"/>
<line x1="126.85" y1="1276.4" x2="126.85" y2="1279.4" stroke="#231f20" stroke-width="1.3"/>
<text x="126.85" y="1209.48" text-anchor="middle" font-family="Liberation Sans" font-size="7" letter-spacing="0.6" fill="#333">*</text>
<rect x="144.5" y="1201.9" width="17.50" height="74.50" fill="#231f20"/>
<line x1="153.25" y1="1199.1" x2="153.25" y2="1201.9" stroke="#231f20" stroke-width="1.6"/>
<line x1="148.70" y1="1199.40" x2="157.80" y2="1199.40" stroke="#231f20" stroke-width="1.6"/>
<line x1="153.25" y1="1276.4" x2="153.25" y2="1279.4" stroke="#231f20" stroke-width="1.3"/>
<text x="153.25" y="1199.68" text-anchor="middle" font-family="Liberation Sans" font-size="7" letter-spacing="0.6" fill="#333">**</text>
<rect x="170.6" y="1200.7" width="17.80" height="75.70" fill="#231f20"/>
<line x1="179.50" y1="1197.2" x2="179.50" y2="1200.7" stroke="#231f20" stroke-width="1.6"/>
<line x1="174.87" y1="1197.50" x2="184.13" y2="1197.50" stroke="#231f20" stroke-width="1.6"/>
<line x1="179.50" y1="1276.4" x2="179.50" y2="1279.4" stroke="#231f20" stroke-width="1.3"/>
<text x="179.50" y="1198.48" text-anchor="middle" font-family="Liberation Sans" font-size="7" letter-spacing="0.6" fill="#333">**</text>
<line x1="74.4" y1="1165.1" x2="118.8" y2="1165.1" stroke="#888" stroke-width="1.1"/>
<line x1="74.80000000000001" y1="1163.8" x2="74.80000000000001" y2="1166.3999999999999" stroke="#888" stroke-width="0.9"/>
<line x1="118.39999999999999" y1="1163.8" x2="118.39999999999999" y2="1166.3999999999999" stroke="#888" stroke-width="0.9"/>
<line x1="74.4" y1="1167.4" x2="98.4" y2="1167.4" stroke="#888" stroke-width="1.1"/>
<line x1="74.80000000000001" y1="1166.1000000000001" x2="74.80000000000001" y2="1168.7" stroke="#888" stroke-width="0.9"/>
<line x1="98.0" y1="1166.1000000000001" x2="98.0" y2="1168.7" stroke="#888" stroke-width="0.9"/>
<line x1="122.7" y1="1179.8" x2="175.5" y2="1179.8" stroke="#999" stroke-width="1.1"/>
<line x1="123.10000000000001" y1="1178.5" x2="123.10000000000001" y2="1181.1" stroke="#999" stroke-width="0.9"/>
<line x1="175.1" y1="1178.5" x2="175.1" y2="1181.1" stroke="#999" stroke-width="0.9"/>
<line x1="99.6" y1="1182.8" x2="155" y2="1182.8" stroke="#aaa" stroke-width="1.1"/>
<line x1="100.0" y1="1181.5" x2="100.0" y2="1184.1" stroke="#aaa" stroke-width="0.9"/>
<line x1="154.6" y1="1181.5" x2="154.6" y2="1184.1" stroke="#aaa" stroke-width="0.9"/>
<text x="88.9" y="1165.88" text-anchor="middle" font-family="Liberation Sans" font-size="7" letter-spacing="0.6" fill="#333">***</text>
<text x="138.6" y="1180.28" text-anchor="middle" font-family="Liberation Sans" font-size="7" letter-spacing="0.6" fill="#333">*</text>
<text transform="translate(15.9,1226) rotate(-90) scale(1,0.9)" text-anchor="middle" font-family="Liberation Sans" font-weight="bold" font-size="8.4" fill="#231f20">% Dcx positive cells</text>
<text transform="translate(50.15,1285.60) scale(1,0.95) rotate(-45)" text-anchor="end" font-family="Liberation Sans" font-weight="bold" font-size="7.85" fill="#231f20">c</text>
<text transform="translate(74.70,1287.10) scale(1,0.95) rotate(-45)" text-anchor="end" font-family="Liberation Sans" font-weight="bold" font-size="7.85" fill="#231f20">IL6 50pg/ml</text>
<text transform="translate(102.80,1287.10) scale(1,0.95) rotate(-45)" text-anchor="end" font-family="Liberation Sans" font-weight="bold" font-size="7.85" fill="#231f20">IL6+17(18) EpETE 0.08pg/ul</text>
<text transform="translate(129.45,1287.10) scale(1,0.95) rotate(-45)" text-anchor="end" font-family="Liberation Sans" font-weight="bold" font-size="7.85" fill="#231f20">IL6+19(20) EpDPA 0.3pg/ul</text>
<text transform="translate(155.85,1287.10) scale(1,0.95) rotate(-45)" text-anchor="end" font-family="Liberation Sans" font-weight="bold" font-size="7.85" fill="#231f20">IL6+17(18) EpETE+ TPPU</text>
<text transform="translate(182.10,1287.10) scale(1,0.95) rotate(-45)" text-anchor="end" font-family="Liberation Sans" font-weight="bold" font-size="7.85" fill="#231f20">IL6+19(20) EpDPA+ TPPU</text>
<text x="252.3" y="1131" font-family="Liberation Serif" font-weight="bold" font-size="25.5" fill="#231f20">n)</text>
<text transform="translate(348.5,1138) scale(1.03,0.88)" font-family="Liberation Sans" font-weight="bold" font-size="10" fill="#231f20" stroke="#231f20" stroke-width="0.3">Map2</text>
<line x1="280.3" y1="1171.85" x2="280.3" y2="1273.45" stroke="#231f20" stroke-width="1.3"/>
<line x1="279.65" y1="1272.8" x2="437" y2="1272.8" stroke="#231f20" stroke-width="1.3"/>
<line x1="276.7" y1="1272.80" x2="280.3" y2="1272.80" stroke="#231f20" stroke-width="1.3"/>
<text transform="translate(276.00,1275.15) scale(1,0.85)" text-anchor="end" font-family="Liberation Sans" font-weight="bold" font-size="7.8" fill="#231f20">0</text>
<line x1="276.7" y1="1252.74" x2="280.3" y2="1252.74" stroke="#231f20" stroke-width="1.3"/>
<text transform="translate(276.00,1255.09) scale(1,0.85)" text-anchor="end" font-family="Liberation Sans" font-weight="bold" font-size="7.8" fill="#231f20">10</text>
<line x1="276.7" y1="1232.68" x2="280.3" y2="1232.68" stroke="#231f20" stroke-width="1.3"/>
<text transform="translate(276.00,1235.03) scale(1,0.85)" text-anchor="end" font-family="Liberation Sans" font-weight="bold" font-size="7.8" fill="#231f20">20</text>
<line x1="276.7" y1="1212.62" x2="280.3" y2="1212.62" stroke="#231f20" stroke-width="1.3"/>
<text transform="translate(276.00,1214.97) scale(1,0.85)" text-anchor="end" font-family="Liberation Sans" font-weight="bold" font-size="7.8" fill="#231f20">30</text>
<line x1="276.7" y1="1192.56" x2="280.3" y2="1192.56" stroke="#231f20" stroke-width="1.3"/>
<text transform="translate(276.00,1194.91) scale(1,0.85)" text-anchor="end" font-family="Liberation Sans" font-weight="bold" font-size="7.8" fill="#231f20">40</text>
<line x1="276.7" y1="1172.50" x2="280.3" y2="1172.50" stroke="#231f20" stroke-width="1.3"/>
<text transform="translate(276.00,1174.85) scale(1,0.85)" text-anchor="end" font-family="Liberation Sans" font-weight="bold" font-size="7.8" fill="#231f20">50</text>
<rect x="284.8" y="1203.1" width="17.20" height="69.70" fill="#231f20"/>
<line x1="293.40" y1="1201.9" x2="293.40" y2="1203.1" stroke="#231f20" stroke-width="1.6"/>
<line x1="288.93" y1="1202.20" x2="297.87" y2="1202.20" stroke="#231f20" stroke-width="1.6"/>
<line x1="293.40" y1="1272.8" x2="293.40" y2="1275.8" stroke="#231f20" stroke-width="1.3"/>
<rect x="311.1" y="1230.2" width="17.00" height="42.60" fill="#231f20"/>
<line x1="319.60" y1="1226.2" x2="319.60" y2="1230.2" stroke="#231f20" stroke-width="1.6"/>
<line x1="315.18" y1="1226.50" x2="324.02" y2="1226.50" stroke="#231f20" stroke-width="1.6"/>
<line x1="319.60" y1="1272.8" x2="319.60" y2="1275.8" stroke="#231f20" stroke-width="1.3"/>
<text x="319.60" y="1226.78" text-anchor="middle" font-family="Liberation Sans" font-size="7" letter-spacing="0.6" fill="#333">**</text>
<rect x="337" y="1225.3" width="17.40" height="47.50" fill="#231f20"/>
<line x1="345.70" y1="1224.5" x2="345.70" y2="1225.3" stroke="#231f20" stroke-width="1.6"/>
<line x1="341.18" y1="1224.80" x2="350.22" y2="1224.80" stroke="#231f20" stroke-width="1.6"/>
<line x1="345.70" y1="1272.8" x2="345.70" y2="1275.8" stroke="#231f20" stroke-width="1.3"/>
<text x="345.70" y="1225.08" text-anchor="middle" font-family="Liberation Sans" font-size="7" letter-spacing="0.6" fill="#333">**</text>
<rect x="363.3" y="1191.2" width="17.50" height="81.60" fill="#231f20"/>
<line x1="372.05" y1="1189.4" x2="372.05" y2="1191.2" stroke="#231f20" stroke-width="1.6"/>
<line x1="367.50" y1="1189.70" x2="376.60" y2="1189.70" stroke="#231f20" stroke-width="1.6"/>
<line x1="372.05" y1="1272.8" x2="372.05" y2="1275.8" stroke="#231f20" stroke-width="1.3"/>
<text x="372.05" y="1190.38" text-anchor="middle" font-family="Liberation Sans" font-size="7" letter-spacing="0.6" fill="#333">*</text>
<rect x="389.4" y="1226.2" width="17.50" height="46.60" fill="#231f20"/>
<line x1="398.15" y1="1222.2" x2="398.15" y2="1226.2" stroke="#231f20" stroke-width="1.6"/>
<line x1="393.60" y1="1222.50" x2="402.70" y2="1222.50" stroke="#231f20" stroke-width="1.6"/>
<line x1="398.15" y1="1272.8" x2="398.15" y2="1275.8" stroke="#231f20" stroke-width="1.3"/>
<text x="398.15" y="1223.58" text-anchor="middle" font-family="Liberation Sans" font-size="7" letter-spacing="0.6" fill="#333">**</text>
<rect x="415.7" y="1181.2" width="17.20" height="91.60" fill="#231f20"/>
<line x1="424.30" y1="1179.4" x2="424.30" y2="1181.2" stroke="#231f20" stroke-width="1.6"/>
<line x1="419.83" y1="1179.70" x2="428.77" y2="1179.70" stroke="#231f20" stroke-width="1.6"/>
<line x1="424.30" y1="1272.8" x2="424.30" y2="1275.8" stroke="#231f20" stroke-width="1.3"/>
<text x="424.30" y="1179.88" text-anchor="middle" font-family="Liberation Sans" font-size="7" letter-spacing="0.6" fill="#333">**</text>
<line x1="328.1" y1="1169.3" x2="372.1" y2="1169.3" stroke="#888" stroke-width="1.1"/>
<line x1="328.5" y1="1168.0" x2="328.5" y2="1170.6" stroke="#888" stroke-width="0.9"/>
<line x1="371.70000000000005" y1="1168.0" x2="371.70000000000005" y2="1170.6" stroke="#888" stroke-width="0.9"/>
<line x1="378.5" y1="1169.3" x2="422.9" y2="1169.3" stroke="#888" stroke-width="1.1"/>
<line x1="378.9" y1="1168.0" x2="378.9" y2="1170.6" stroke="#888" stroke-width="0.9"/>
<line x1="422.5" y1="1168.0" x2="422.5" y2="1170.6" stroke="#888" stroke-width="0.9"/>
<text x="350.4" y="1170.18" text-anchor="middle" font-family="Liberation Sans" font-size="7" letter-spacing="0.6" fill="#333">***</text>
<text x="399" y="1170.18" text-anchor="middle" font-family="Liberation Sans" font-size="7" letter-spacing="0.6" fill="#333">*</text>
<text transform="translate(261.1,1223) rotate(-90) scale(1,0.82)" text-anchor="middle" font-family="Liberation Sans" font-weight="bold" font-size="8.4" fill="#231f20">% MAP2 positive cells</text>
<text transform="translate(296.00,1282.00) scale(1,0.95) rotate(-45)" text-anchor="end" font-family="Liberation Sans" font-weight="bold" font-size="7.85" fill="#231f20">c</text>
<text transform="translate(320.50,1283.50) scale(1,0.95) rotate(-45)" text-anchor="end" font-family="Liberation Sans" font-weight="bold" font-size="7.85" fill="#231f20">IL6 50pg/ml</text>
<text transform="translate(348.30,1283.50) scale(1,0.95) rotate(-45)" text-anchor="end" font-family="Liberation Sans" font-weight="bold" font-size="7.85" fill="#231f20">IL6+17(18) EpETE 0.08pg/ul</text>
<text transform="translate(374.65,1283.50) scale(1,0.95) rotate(-45)" text-anchor="end" font-family="Liberation Sans" font-weight="bold" font-size="7.85" fill="#231f20">IL6+19(20) EpDPA 0.3pg/ul</text>
<text transform="translate(400.75,1283.50) scale(1,0.95) rotate(-45)" text-anchor="end" font-family="Liberation Sans" font-weight="bold" font-size="7.85" fill="#231f20">IL6+17(18) EpETE+ TPPU</text>
<text transform="translate(426.90,1283.50) scale(1,0.95) rotate(-45)" text-anchor="end" font-family="Liberation Sans" font-weight="bold" font-size="7.85" fill="#231f20">IL6+19(20) EpDPA+ TPPU</text>
<text x="496.2" y="1128.4" font-family="Liberation Serif" font-weight="bold" font-size="25.5" fill="#231f20">o)</text>
<text transform="translate(592.3,1135.3) scale(1.03,0.88)" font-family="Liberation Sans" font-weight="bold" font-size="10" fill="#231f20" stroke="#231f20" stroke-width="0.3">CC3</text>
<line x1="524.4" y1="1169.95" x2="524.4" y2="1271.35" stroke="#231f20" stroke-width="1.3"/>
<line x1="523.75" y1="1270.7" x2="681" y2="1270.7" stroke="#231f20" stroke-width="1.3"/>
<line x1="520.8" y1="1270.70" x2="524.4" y2="1270.70" stroke="#231f20" stroke-width="1.3"/>
<text transform="translate(520.10,1273.05) scale(1,0.85)" text-anchor="end" font-family="Liberation Sans" font-weight="bold" font-size="7.8" fill="#231f20">0</text>
<line x1="520.8" y1="1245.67" x2="524.4" y2="1245.67" stroke="#231f20" stroke-width="1.3"/>
<text transform="translate(520.10,1248.03) scale(1,0.85)" text-anchor="end" font-family="Liberation Sans" font-weight="bold" font-size="7.8" fill="#231f20">5</text>
<line x1="520.8" y1="1220.65" x2="524.4" y2="1220.65" stroke="#231f20" stroke-width="1.3"/>
<text transform="translate(520.10,1223.00) scale(1,0.85)" text-anchor="end" font-family="Liberation Sans" font-weight="bold" font-size="7.8" fill="#231f20">10</text>
<line x1="520.8" y1="1195.62" x2="524.4" y2="1195.62" stroke="#231f20" stroke-width="1.3"/>
<text transform="translate(520.10,1197.98) scale(1,0.85)" text-anchor="end" font-family="Liberation Sans" font-weight="bold" font-size="7.8" fill="#231f20">15</text>
<line x1="520.8" y1="1170.60" x2="524.4" y2="1170.60" stroke="#231f20" stroke-width="1.3"/>
<text transform="translate(520.10,1172.95) scale(1,0.85)" text-anchor="end" font-family="Liberation Sans" font-weight="bold" font-size="7.8" fill="#231f20">20</text>
<rect x="529.1" y="1221" width="17.10" height="49.70" fill="#231f20"/>
<line x1="537.65" y1="1216.5" x2="537.65" y2="1221" stroke="#231f20" stroke-width="1.6"/>
<line x1="533.20" y1="1216.80" x2="542.10" y2="1216.80" stroke="#231f20" stroke-width="1.6"/>
<line x1="537.65" y1="1270.7" x2="537.65" y2="1273.7" stroke="#231f20" stroke-width="1.3"/>
<rect x="555.4" y="1195.5" width="17.00" height="75.20" fill="#231f20"/>
<line x1="563.90" y1="1190.4" x2="563.90" y2="1195.5" stroke="#231f20" stroke-width="1.6"/>
<line x1="559.48" y1="1190.70" x2="568.32" y2="1190.70" stroke="#231f20" stroke-width="1.6"/>
<line x1="563.90" y1="1270.7" x2="563.90" y2="1273.7" stroke="#231f20" stroke-width="1.3"/>
<text x="563.90" y="1190.18" text-anchor="middle" font-family="Liberation Sans" font-size="7" letter-spacing="0.6" fill="#333">**</text>
<rect x="581.2" y="1230.1" width="17.40" height="40.60" fill="#231f20"/>
<line x1="589.90" y1="1228.2" x2="589.90" y2="1230.1" stroke="#231f20" stroke-width="1.6"/>
<line x1="585.38" y1="1228.50" x2="594.42" y2="1228.50" stroke="#231f20" stroke-width="1.6"/>
<line x1="589.90" y1="1270.7" x2="589.90" y2="1273.7" stroke="#231f20" stroke-width="1.3"/>
<text x="589.90" y="1229.28" text-anchor="middle" font-family="Liberation Sans" font-size="7" letter-spacing="0.6" fill="#333">*</text>
<rect x="607.3" y="1196.5" width="17.60" height="74.20" fill="#231f20"/>
<line x1="616.10" y1="1193.9" x2="616.10" y2="1196.5" stroke="#231f20" stroke-width="1.6"/>
<line x1="611.52" y1="1194.20" x2="620.68" y2="1194.20" stroke="#231f20" stroke-width="1.6"/>
<line x1="616.10" y1="1270.7" x2="616.10" y2="1273.7" stroke="#231f20" stroke-width="1.3"/>
<text x="616.10" y="1193.98" text-anchor="middle" font-family="Liberation Sans" font-size="7" letter-spacing="0.6" fill="#333">**</text>
<rect x="633.6" y="1246.1" width="17.40" height="24.60" fill="#231f20"/>
<line x1="642.30" y1="1243.9" x2="642.30" y2="1246.1" stroke="#231f20" stroke-width="1.6"/>
<line x1="637.78" y1="1244.20" x2="646.82" y2="1244.20" stroke="#231f20" stroke-width="1.6"/>
<line x1="642.30" y1="1270.7" x2="642.30" y2="1273.7" stroke="#231f20" stroke-width="1.3"/>
<text x="642.30" y="1244.58" text-anchor="middle" font-family="Liberation Sans" font-size="7" letter-spacing="0.6" fill="#333">**</text>
<rect x="659.9" y="1203.1" width="17.40" height="67.60" fill="#231f20"/>
<line x1="668.60" y1="1199.4" x2="668.60" y2="1203.1" stroke="#231f20" stroke-width="1.6"/>
<line x1="664.08" y1="1199.70" x2="673.12" y2="1199.70" stroke="#231f20" stroke-width="1.6"/>
<line x1="668.60" y1="1270.7" x2="668.60" y2="1273.7" stroke="#231f20" stroke-width="1.3"/>
<text x="668.60" y="1200.08" text-anchor="middle" font-family="Liberation Sans" font-size="7" letter-spacing="0.6" fill="#333">*</text>
<line x1="563.7" y1="1178.8" x2="590.7" y2="1178.8" stroke="#888" stroke-width="1.1"/>
<line x1="564.1" y1="1177.5" x2="564.1" y2="1180.1" stroke="#888" stroke-width="0.9"/>
<line x1="590.3000000000001" y1="1177.5" x2="590.3000000000001" y2="1180.1" stroke="#888" stroke-width="0.9"/>
<line x1="596" y1="1179" x2="641.2" y2="1179" stroke="#888" stroke-width="1.1"/>
<line x1="596.4" y1="1177.7" x2="596.4" y2="1180.3" stroke="#888" stroke-width="0.9"/>
<line x1="640.8000000000001" y1="1177.7" x2="640.8000000000001" y2="1180.3" stroke="#888" stroke-width="0.9"/>
<text x="576.9" y="1178.48" text-anchor="middle" font-family="Liberation Sans" font-size="7" letter-spacing="0.6" fill="#333">***</text>
<text x="618.6" y="1179.58" text-anchor="middle" font-family="Liberation Sans" font-size="7" letter-spacing="0.6" fill="#333">**</text>
<text transform="translate(505.2,1221.2) rotate(-90) scale(1,0.95)" text-anchor="middle" font-family="Liberation Sans" font-weight="bold" font-size="8.3" fill="#231f20">% CC3 positive cells</text>
<text transform="translate(540.25,1279.90) scale(1,0.95) rotate(-45)" text-anchor="end" font-family="Liberation Sans" font-weight="bold" font-size="7.85" fill="#231f20">c</text>
<text transform="translate(564.80,1281.40) scale(1,0.95) rotate(-45)" text-anchor="end" font-family="Liberation Sans" font-weight="bold" font-size="7.85" fill="#231f20">IL6 50pg/ml</text>
<text transform="translate(592.50,1281.40) scale(1,0.95) rotate(-45)" text-anchor="end" font-family="Liberation Sans" font-weight="bold" font-size="7.85" fill="#231f20">IL6+17(18) EpETE 0.08pg/ul</text>
<text transform="translate(618.70,1281.40) scale(1,0.95) rotate(-45)" text-anchor="end" font-family="Liberation Sans" font-weight="bold" font-size="7.85" fill="#231f20">IL6+19(20) EpDPA 0.3pg/ul</text>
<text transform="translate(644.90,1281.40) scale(1,0.95) rotate(-45)" text-anchor="end" font-family="Liberation Sans" font-weight="bold" font-size="7.85" fill="#231f20">IL6+17(18) EpETE+ TPPU</text>
<text transform="translate(671.20,1281.40) scale(1,0.95) rotate(-45)" text-anchor="end" font-family="Liberation Sans" font-weight="bold" font-size="7.85" fill="#231f20">IL6+19(20) EpDPA+ TPPU</text>
<text x="2.1" y="1418.6" font-family="Liberation Serif" font-weight="bold" font-size="25.5" fill="#231f20">p)</text>
<text transform="translate(95,1406.1) scale(1.03,0.88)" font-family="Liberation Sans" font-weight="bold" font-size="10" fill="#231f20" stroke="#231f20" stroke-width="0.3">DCX</text>
<line x1="28.2" y1="1438.85" x2="28.2" y2="1538.65" stroke="#231f20" stroke-width="1.3"/>
<line x1="27.55" y1="1538" x2="184.5" y2="1538" stroke="#231f20" stroke-width="1.3"/>
<line x1="24.599999999999998" y1="1538.00" x2="28.2" y2="1538.00" stroke="#231f20" stroke-width="1.3"/>
<text transform="translate(23.90,1540.35) scale(1,0.85)" text-anchor="end" font-family="Liberation Sans" font-weight="bold" font-size="7.8" fill="#231f20">0</text>
<line x1="24.599999999999998" y1="1518.30" x2="28.2" y2="1518.30" stroke="#231f20" stroke-width="1.3"/>
<text transform="translate(23.90,1520.65) scale(1,0.85)" text-anchor="end" font-family="Liberation Sans" font-weight="bold" font-size="7.8" fill="#231f20">10</text>
<line x1="24.599999999999998" y1="1498.60" x2="28.2" y2="1498.60" stroke="#231f20" stroke-width="1.3"/>
<text transform="translate(23.90,1500.95) scale(1,0.85)" text-anchor="end" font-family="Liberation Sans" font-weight="bold" font-size="7.8" fill="#231f20">20</text>
<line x1="24.599999999999998" y1="1478.90" x2="28.2" y2="1478.90" stroke="#231f20" stroke-width="1.3"/>
<text transform="translate(23.90,1481.25) scale(1,0.85)" text-anchor="end" font-family="Liberation Sans" font-weight="bold" font-size="7.8" fill="#231f20">30</text>
<line x1="24.599999999999998" y1="1459.20" x2="28.2" y2="1459.20" stroke="#231f20" stroke-width="1.3"/>
<text transform="translate(23.90,1461.55) scale(1,0.85)" text-anchor="end" font-family="Liberation Sans" font-weight="bold" font-size="7.8" fill="#231f20">40</text>
<line x1="24.599999999999998" y1="1439.50" x2="28.2" y2="1439.50" stroke="#231f20" stroke-width="1.3"/>
<text transform="translate(23.90,1441.85) scale(1,0.85)" text-anchor="end" font-family="Liberation Sans" font-weight="bold" font-size="7.8" fill="#231f20">50</text>
<rect x="32.6" y="1490.7" width="17.20" height="47.30" fill="#231f20"/>
<line x1="41.20" y1="1489.6" x2="41.20" y2="1490.7" stroke="#231f20" stroke-width="1.6"/>
<line x1="36.73" y1="1489.90" x2="45.67" y2="1489.90" stroke="#231f20" stroke-width="1.6"/>
<line x1="41.20" y1="1538" x2="41.20" y2="1541" stroke="#231f20" stroke-width="1.3"/>
<rect x="58.2" y="1517.1" width="17.50" height="20.90" fill="#231f20"/>
<line x1="66.95" y1="1515" x2="66.95" y2="1517.1" stroke="#231f20" stroke-width="1.6"/>
<line x1="62.40" y1="1515.30" x2="71.50" y2="1515.30" stroke="#231f20" stroke-width="1.6"/>
<line x1="66.95" y1="1538" x2="66.95" y2="1541" stroke="#231f20" stroke-width="1.3"/>
<text x="66.95" y="1514.58" text-anchor="middle" font-family="Liberation Sans" font-size="7" letter-spacing="0.6" fill="#333">***</text>
<rect x="84.4" y="1476.5" width="17.40" height="61.50" fill="#231f20"/>
<line x1="93.10" y1="1473.9" x2="93.10" y2="1476.5" stroke="#231f20" stroke-width="1.6"/>
<line x1="88.58" y1="1474.20" x2="97.62" y2="1474.20" stroke="#231f20" stroke-width="1.6"/>
<line x1="93.10" y1="1538" x2="93.10" y2="1541" stroke="#231f20" stroke-width="1.3"/>
<text x="93.10" y="1474.28" text-anchor="middle" font-family="Liberation Sans" font-size="7" letter-spacing="0.6" fill="#333">*</text>
<rect x="110.1" y="1476.6" width="17.50" height="61.40" fill="#231f20"/>
<line x1="118.85" y1="1473.8" x2="118.85" y2="1476.6" stroke="#231f20" stroke-width="1.6"/>
<line x1="114.30" y1="1474.10" x2="123.40" y2="1474.10" stroke="#231f20" stroke-width="1.6"/>
<line x1="118.85" y1="1538" x2="118.85" y2="1541" stroke="#231f20" stroke-width="1.3"/>
<text x="118.85" y="1474.28" text-anchor="middle" font-family="Liberation Sans" font-size="7" letter-spacing="0.6" fill="#333">*</text>
<rect x="136.3" y="1464.2" width="17.60" height="73.80" fill="#231f20"/>
<line x1="145.10" y1="1460.7" x2="145.10" y2="1464.2" stroke="#231f20" stroke-width="1.6"/>
<line x1="140.52" y1="1461.00" x2="149.68" y2="1461.00" stroke="#231f20" stroke-width="1.6"/>
<line x1="145.10" y1="1538" x2="145.10" y2="1541" stroke="#231f20" stroke-width="1.3"/>
<text x="145.10" y="1460.98" text-anchor="middle" font-family="Liberation Sans" font-size="7" letter-spacing="0.6" fill="#333">**</text>
<rect x="162.2" y="1464.2" width="17.50" height="73.80" fill="#231f20"/>
<line x1="170.95" y1="1460.7" x2="170.95" y2="1464.2" stroke="#231f20" stroke-width="1.6"/>
<line x1="166.40" y1="1461.00" x2="175.50" y2="1461.00" stroke="#231f20" stroke-width="1.6"/>
<line x1="170.95" y1="1538" x2="170.95" y2="1541" stroke="#231f20" stroke-width="1.3"/>
<text x="170.95" y="1460.98" text-anchor="middle" font-family="Liberation Sans" font-size="7" letter-spacing="0.6" fill="#333">**</text>
<line x1="66.3" y1="1425.9" x2="120.6" y2="1425.9" stroke="#999" stroke-width="1.1"/>
<line x1="66.7" y1="1424.6000000000001" x2="66.7" y2="1427.2" stroke="#999" stroke-width="0.9"/>
<line x1="120.19999999999999" y1="1424.6000000000001" x2="120.19999999999999" y2="1427.2" stroke="#999" stroke-width="0.9"/>
<line x1="66.3" y1="1428.1" x2="90.4" y2="1428.1" stroke="#999" stroke-width="1.1"/>
<line x1="66.7" y1="1426.8" x2="66.7" y2="1429.3999999999999" stroke="#999" stroke-width="0.9"/>
<line x1="90.0" y1="1426.8" x2="90.0" y2="1429.3999999999999" stroke="#999" stroke-width="0.9"/>
<line x1="116.2" y1="1439.9" x2="167.4" y2="1439.9" stroke="#999" stroke-width="1.1"/>
<line x1="116.60000000000001" y1="1438.6000000000001" x2="116.60000000000001" y2="1441.2" stroke="#999" stroke-width="0.9"/>
<line x1="167.0" y1="1438.6000000000001" x2="167.0" y2="1441.2" stroke="#999" stroke-width="0.9"/>
<line x1="96.5" y1="1443.1" x2="144.7" y2="1443.1" stroke="#888" stroke-width="1.1"/>
<line x1="96.9" y1="1441.8" x2="96.9" y2="1444.3999999999999" stroke="#888" stroke-width="0.9"/>
<line x1="144.29999999999998" y1="1441.8" x2="144.29999999999998" y2="1444.3999999999999" stroke="#888" stroke-width="0.9"/>
<text x="80.5" y="1426.58" text-anchor="middle" font-family="Liberation Sans" font-size="7" letter-spacing="0.6" fill="#333">***</text>
<text x="128.7" y="1439.68" text-anchor="middle" font-family="Liberation Sans" font-size="7" letter-spacing="0.6" fill="#333">*</text>
<text transform="translate(10,1488.9) rotate(-90) scale(1,0.9)" text-anchor="middle" font-family="Liberation Sans" font-weight="bold" font-size="8.2" fill="#231f20">% Dcx positive cells</text>
<text transform="translate(43.80,1547.20) scale(1,0.95) rotate(-45)" text-anchor="end" font-family="Liberation Sans" font-weight="bold" font-size="7.85" fill="#231f20">c</text>
<text transform="translate(67.85,1548.70) scale(1,0.95) rotate(-45)" text-anchor="end" font-family="Liberation Sans" font-weight="bold" font-size="7.85" fill="#231f20">IFN-<tspan font-family="Liberation Serif" font-weight="normal">&#945;</tspan>50000 pg/ml</text>
<text transform="translate(95.70,1548.70) scale(1,0.95) rotate(-45)" text-anchor="end" font-family="Liberation Sans" font-weight="bold" font-size="7.85" fill="#231f20">IFN-<tspan font-family="Liberation Serif" font-weight="normal">&#945;</tspan>+17(18) EpETE 0.08pg/ul</text>
<text transform="translate(121.45,1548.70) scale(1,0.95) rotate(-45)" text-anchor="end" font-family="Liberation Sans" font-weight="bold" font-size="7.85" fill="#231f20">IFN-<tspan font-family="Liberation Serif" font-weight="normal">&#945;</tspan>+19(20) EpDPA 0.3pg/ul</text>
<text transform="translate(147.70,1548.70) scale(1,0.95) rotate(-45)" text-anchor="end" font-family="Liberation Sans" font-weight="bold" font-size="7.85" fill="#231f20">IFN-<tspan font-family="Liberation Serif" font-weight="normal">&#945;</tspan>+17(18) EpETE+ TPPU</text>
<text transform="translate(173.55,1548.70) scale(1,0.95) rotate(-45)" text-anchor="end" font-family="Liberation Sans" font-weight="bold" font-size="7.85" fill="#231f20">IFN-<tspan font-family="Liberation Serif" font-weight="normal">&#945;</tspan>+19(20) EpDPA+ TPPU</text>
<text x="252" y="1420" font-family="Liberation Serif" font-weight="bold" font-size="25.5" fill="#231f20">q)</text>
<text transform="translate(335.4,1412.5) scale(1.03,0.88)" font-family="Liberation Sans" font-weight="bold" font-size="10" fill="#231f20" stroke="#231f20" stroke-width="0.3">Map2</text>
<line x1="276.5" y1="1445.35" x2="276.5" y2="1545.65" stroke="#231f20" stroke-width="1.3"/>
<line x1="275.85" y1="1545" x2="431" y2="1545" stroke="#231f20" stroke-width="1.3"/>
<line x1="272.9" y1="1545.00" x2="276.5" y2="1545.00" stroke="#231f20" stroke-width="1.3"/>
<text transform="translate(272.20,1547.35) scale(1,0.85)" text-anchor="end" font-family="Liberation Sans" font-weight="bold" font-size="7.8" fill="#231f20">0</text>
<line x1="272.9" y1="1512.00" x2="276.5" y2="1512.00" stroke="#231f20" stroke-width="1.3"/>
<text transform="translate(272.20,1514.35) scale(1,0.85)" text-anchor="end" font-family="Liberation Sans" font-weight="bold" font-size="7.8" fill="#231f20">20</text>
<line x1="272.9" y1="1479.00" x2="276.5" y2="1479.00" stroke="#231f20" stroke-width="1.3"/>
<text transform="translate(272.20,1481.35) scale(1,0.85)" text-anchor="end" font-family="Liberation Sans" font-weight="bold" font-size="7.8" fill="#231f20">40</text>
<line x1="272.9" y1="1446.00" x2="276.5" y2="1446.00" stroke="#231f20" stroke-width="1.3"/>
<text transform="translate(272.20,1448.35) scale(1,0.85)" text-anchor="end" font-family="Liberation Sans" font-weight="bold" font-size="7.8" fill="#231f20">60</text>
<rect x="281" y="1490.2" width="16.90" height="54.80" fill="#231f20"/>
<line x1="289.45" y1="1489.4" x2="289.45" y2="1490.2" stroke="#231f20" stroke-width="1.6"/>
<line x1="285.06" y1="1489.70" x2="293.84" y2="1489.70" stroke="#231f20" stroke-width="1.6"/>
<line x1="289.45" y1="1545" x2="289.45" y2="1548" stroke="#231f20" stroke-width="1.3"/>
<rect x="306.5" y="1521.5" width="17.40" height="23.50" fill="#231f20"/>
<line x1="315.20" y1="1517.5" x2="315.20" y2="1521.5" stroke="#231f20" stroke-width="1.6"/>
<line x1="310.68" y1="1517.80" x2="319.72" y2="1517.80" stroke="#231f20" stroke-width="1.6"/>
<line x1="315.20" y1="1545" x2="315.20" y2="1548" stroke="#231f20" stroke-width="1.3"/>
<text x="315.20" y="1518.28" text-anchor="middle" font-family="Liberation Sans" font-size="7" letter-spacing="0.6" fill="#333">***</text>
<rect x="332.4" y="1477.8" width="17.20" height="67.20" fill="#231f20"/>
<line x1="341.00" y1="1475.4" x2="341.00" y2="1477.8" stroke="#231f20" stroke-width="1.6"/>
<line x1="336.53" y1="1475.70" x2="345.47" y2="1475.70" stroke="#231f20" stroke-width="1.6"/>
<line x1="341.00" y1="1545" x2="341.00" y2="1548" stroke="#231f20" stroke-width="1.3"/>
<text x="341.00" y="1475.98" text-anchor="middle" font-family="Liberation Sans" font-size="7" letter-spacing="0.6" fill="#333">*</text>
<rect x="358.2" y="1477.9" width="17.10" height="67.10" fill="#231f20"/>
<line x1="366.75" y1="1476.2" x2="366.75" y2="1477.9" stroke="#231f20" stroke-width="1.6"/>
<line x1="362.30" y1="1476.50" x2="371.20" y2="1476.50" stroke="#231f20" stroke-width="1.6"/>
<line x1="366.75" y1="1545" x2="366.75" y2="1548" stroke="#231f20" stroke-width="1.3"/>
<text x="366.75" y="1477.78" text-anchor="middle" font-family="Liberation Sans" font-size="7" letter-spacing="0.6" fill="#333">*</text>
<rect x="384.1" y="1467" width="16.90" height="78.00" fill="#231f20"/>
<line x1="392.55" y1="1464.9" x2="392.55" y2="1467" stroke="#231f20" stroke-width="1.6"/>
<line x1="388.16" y1="1465.20" x2="396.94" y2="1465.20" stroke="#231f20" stroke-width="1.6"/>
<line x1="392.55" y1="1545" x2="392.55" y2="1548" stroke="#231f20" stroke-width="1.3"/>
<text x="392.55" y="1465.28" text-anchor="middle" font-family="Liberation Sans" font-size="7" letter-spacing="0.6" fill="#333">*</text>
<rect x="410" y="1468.6" width="16.80" height="76.40" fill="#231f20"/>
<line x1="418.40" y1="1465.9" x2="418.40" y2="1468.6" stroke="#231f20" stroke-width="1.6"/>
<line x1="414.03" y1="1466.20" x2="422.77" y2="1466.20" stroke="#231f20" stroke-width="1.6"/>
<line x1="418.40" y1="1545" x2="418.40" y2="1548" stroke="#231f20" stroke-width="1.3"/>
<text x="418.40" y="1466.28" text-anchor="middle" font-family="Liberation Sans" font-size="7" letter-spacing="0.6" fill="#333">*</text>
<line x1="312.3" y1="1431.4" x2="366.6" y2="1431.4" stroke="#999" stroke-width="1.1"/>
<line x1="312.7" y1="1430.1000000000001" x2="312.7" y2="1432.7" stroke="#999" stroke-width="0.9"/>
<line x1="366.20000000000005" y1="1430.1000000000001" x2="366.20000000000005" y2="1432.7" stroke="#999" stroke-width="0.9"/>
<line x1="312.3" y1="1433.8" x2="336.4" y2="1433.8" stroke="#999" stroke-width="1.1"/>
<line x1="312.7" y1="1432.5" x2="312.7" y2="1435.1" stroke="#999" stroke-width="0.9"/>
<line x1="336.0" y1="1432.5" x2="336.0" y2="1435.1" stroke="#999" stroke-width="0.9"/>
<line x1="361.8" y1="1445.3" x2="412.7" y2="1445.3" stroke="#888" stroke-width="1.1"/>
<line x1="362.2" y1="1444.0" x2="362.2" y2="1446.6" stroke="#888" stroke-width="0.9"/>
<line x1="412.3" y1="1444.0" x2="412.3" y2="1446.6" stroke="#888" stroke-width="0.9"/>
<line x1="341.6" y1="1448.3" x2="390.7" y2="1448.3" stroke="#888" stroke-width="1.1"/>
<line x1="342.0" y1="1447.0" x2="342.0" y2="1449.6" stroke="#888" stroke-width="0.9"/>
<line x1="390.3" y1="1447.0" x2="390.3" y2="1449.6" stroke="#888" stroke-width="0.9"/>
<text x="326.1" y="1431.98" text-anchor="middle" font-family="Liberation Sans" font-size="7" letter-spacing="0.6" fill="#333">***</text>
<text x="376.6" y="1445.38" text-anchor="middle" font-family="Liberation Sans" font-size="7" letter-spacing="0.6" fill="#333">*</text>
<text transform="translate(257.3,1495.4) rotate(-90) scale(1,0.82)" text-anchor="middle" font-family="Liberation Sans" font-weight="bold" font-size="8.1" fill="#231f20">% MAP2 positive cells</text>
<text transform="translate(292.05,1554.20) scale(1,0.95) rotate(-45)" text-anchor="end" font-family="Liberation Sans" font-weight="bold" font-size="7.85" fill="#231f20">c</text>
<text transform="translate(316.10,1555.70) scale(1,0.95) rotate(-45)" text-anchor="end" font-family="Liberation Sans" font-weight="bold" font-size="7.85" fill="#231f20">IFN-<tspan font-family="Liberation Serif" font-weight="normal">&#945;</tspan>50000 pg/ml</text>
<text transform="translate(343.60,1555.70) scale(1,0.95) rotate(-45)" text-anchor="end" font-family="Liberation Sans" font-weight="bold" font-size="7.85" fill="#231f20">IFN-<tspan font-family="Liberation Serif" font-weight="normal">&#945;</tspan>+17(18) EpETE 0.08pg/ul</text>
<text transform="translate(369.35,1555.70) scale(1,0.95) rotate(-45)" text-anchor="end" font-family="Liberation Sans" font-weight="bold" font-size="7.85" fill="#231f20">IFN-<tspan font-family="Liberation Serif" font-weight="normal">&#945;</tspan>+19(20) EpDPA 0.3pg/ul</text>
<text transform="translate(395.15,1555.70) scale(1,0.95) rotate(-45)" text-anchor="end" font-family="Liberation Sans" font-weight="bold" font-size="7.85" fill="#231f20">IFN-<tspan font-family="Liberation Serif" font-weight="normal">&#945;</tspan>+17(18) EpETE+ TPPU</text>
<text transform="translate(421.00,1555.70) scale(1,0.95) rotate(-45)" text-anchor="end" font-family="Liberation Sans" font-weight="bold" font-size="7.85" fill="#231f20">IFN-<tspan font-family="Liberation Serif" font-weight="normal">&#945;</tspan>+19(20) EpDPA+ TPPU</text>
<text x="497.6" y="1418.9" font-family="Liberation Serif" font-weight="bold" font-size="25.5" fill="#231f20">r)</text>
<text transform="translate(595.6,1413) scale(1.03,0.88)" font-family="Liberation Sans" font-weight="bold" font-size="10" fill="#231f20" stroke="#231f20" stroke-width="0.3">CC3</text>
<line x1="523.9" y1="1444.15" x2="523.9" y2="1544.65" stroke="#231f20" stroke-width="1.3"/>
<line x1="523.25" y1="1544" x2="678" y2="1544" stroke="#231f20" stroke-width="1.3"/>
<line x1="520.3" y1="1544.00" x2="523.9" y2="1544.00" stroke="#231f20" stroke-width="1.3"/>
<text transform="translate(519.60,1546.35) scale(1,0.85)" text-anchor="end" font-family="Liberation Sans" font-weight="bold" font-size="7.8" fill="#231f20">0</text>
<line x1="520.3" y1="1519.20" x2="523.9" y2="1519.20" stroke="#231f20" stroke-width="1.3"/>
<text transform="translate(519.60,1521.55) scale(1,0.85)" text-anchor="end" font-family="Liberation Sans" font-weight="bold" font-size="7.8" fill="#231f20">5</text>
<line x1="520.3" y1="1494.40" x2="523.9" y2="1494.40" stroke="#231f20" stroke-width="1.3"/>
<text transform="translate(519.60,1496.75) scale(1,0.85)" text-anchor="end" font-family="Liberation Sans" font-weight="bold" font-size="7.8" fill="#231f20">10</text>
<line x1="520.3" y1="1469.60" x2="523.9" y2="1469.60" stroke="#231f20" stroke-width="1.3"/>
<text transform="translate(519.60,1471.95) scale(1,0.85)" text-anchor="end" font-family="Liberation Sans" font-weight="bold" font-size="7.8" fill="#231f20">15</text>
<line x1="520.3" y1="1444.80" x2="523.9" y2="1444.80" stroke="#231f20" stroke-width="1.3"/>
<text transform="translate(519.60,1447.15) scale(1,0.85)" text-anchor="end" font-family="Liberation Sans" font-weight="bold" font-size="7.8" fill="#231f20">20</text>
<rect x="528.5" y="1489.1" width="17.00" height="54.90" fill="#231f20"/>
<line x1="537.00" y1="1486.5" x2="537.00" y2="1489.1" stroke="#231f20" stroke-width="1.6"/>
<line x1="532.58" y1="1486.80" x2="541.42" y2="1486.80" stroke="#231f20" stroke-width="1.6"/>
<line x1="537.00" y1="1544" x2="537.00" y2="1547" stroke="#231f20" stroke-width="1.3"/>
<rect x="554.3" y="1465.5" width="16.80" height="78.50" fill="#231f20"/>
<line x1="562.70" y1="1461.4" x2="562.70" y2="1465.5" stroke="#231f20" stroke-width="1.6"/>
<line x1="558.33" y1="1461.70" x2="567.07" y2="1461.70" stroke="#231f20" stroke-width="1.6"/>
<line x1="562.70" y1="1544" x2="562.70" y2="1547" stroke="#231f20" stroke-width="1.3"/>
<text x="562.70" y="1462.78" text-anchor="middle" font-family="Liberation Sans" font-size="7" letter-spacing="0.6" fill="#333">**</text>
<rect x="580" y="1466.5" width="17.00" height="77.50" fill="#231f20"/>
<line x1="588.50" y1="1463.3" x2="588.50" y2="1466.5" stroke="#231f20" stroke-width="1.6"/>
<line x1="584.08" y1="1463.60" x2="592.92" y2="1463.60" stroke="#231f20" stroke-width="1.6"/>
<line x1="588.50" y1="1544" x2="588.50" y2="1547" stroke="#231f20" stroke-width="1.3"/>
<text x="588.50" y="1464.58" text-anchor="middle" font-family="Liberation Sans" font-size="7" letter-spacing="0.6" fill="#333">**</text>
<rect x="605.4" y="1502.7" width="17.30" height="41.30" fill="#231f20"/>
<line x1="614.05" y1="1500.8" x2="614.05" y2="1502.7" stroke="#231f20" stroke-width="1.6"/>
<line x1="609.55" y1="1501.10" x2="618.55" y2="1501.10" stroke="#231f20" stroke-width="1.6"/>
<line x1="614.05" y1="1544" x2="614.05" y2="1547" stroke="#231f20" stroke-width="1.3"/>
<text x="614.05" y="1501.48" text-anchor="middle" font-family="Liberation Sans" font-size="7" letter-spacing="0.6" fill="#333">*</text>
<rect x="631.3" y="1472.3" width="16.90" height="71.70" fill="#231f20"/>
<line x1="639.75" y1="1468.7" x2="639.75" y2="1472.3" stroke="#231f20" stroke-width="1.6"/>
<line x1="635.36" y1="1469.00" x2="644.14" y2="1469.00" stroke="#231f20" stroke-width="1.6"/>
<line x1="639.75" y1="1544" x2="639.75" y2="1547" stroke="#231f20" stroke-width="1.3"/>
<text x="639.75" y="1469.68" text-anchor="middle" font-family="Liberation Sans" font-size="7" letter-spacing="0.6" fill="#333">**</text>
<rect x="657" y="1518.6" width="16.80" height="25.40" fill="#231f20"/>
<line x1="665.40" y1="1517.2" x2="665.40" y2="1518.6" stroke="#231f20" stroke-width="1.6"/>
<line x1="661.03" y1="1517.50" x2="669.77" y2="1517.50" stroke="#231f20" stroke-width="1.6"/>
<line x1="665.40" y1="1544" x2="665.40" y2="1547" stroke="#231f20" stroke-width="1.3"/>
<text x="665.40" y="1517.98" text-anchor="middle" font-family="Liberation Sans" font-size="7" letter-spacing="0.6" fill="#333">**</text>
<line x1="562.5" y1="1449.3" x2="612.4" y2="1449.3" stroke="#888" stroke-width="1.1"/>
<line x1="562.9" y1="1448.0" x2="562.9" y2="1450.6" stroke="#888" stroke-width="0.9"/>
<line x1="612.0" y1="1448.0" x2="612.0" y2="1450.6" stroke="#888" stroke-width="0.9"/>
<line x1="618.6" y1="1449.1" x2="670.4" y2="1449.1" stroke="#bbb" stroke-width="1.1"/>
<line x1="619.0" y1="1447.8" x2="619.0" y2="1450.3999999999999" stroke="#bbb" stroke-width="0.9"/>
<line x1="670.0" y1="1447.8" x2="670.0" y2="1450.3999999999999" stroke="#bbb" stroke-width="0.9"/>
<text x="589" y="1450.78" text-anchor="middle" font-family="Liberation Sans" font-size="7" letter-spacing="0.6" fill="#333">***</text>
<text x="645.2" y="1449.68" text-anchor="middle" font-family="Liberation Sans" font-size="7" letter-spacing="0.6" fill="#333">**</text>
<text transform="translate(504.5,1494.7) rotate(-90) scale(1,0.95)" text-anchor="middle" font-family="Liberation Sans" font-weight="bold" font-size="8.25" fill="#231f20">% CC3 positive cells</text>
<text transform="translate(539.60,1553.20) scale(1,0.95) rotate(-45)" text-anchor="end" font-family="Liberation Sans" font-weight="bold" font-size="7.85" fill="#231f20">c</text>
<text transform="translate(563.60,1554.70) scale(1,0.95) rotate(-45)" text-anchor="end" font-family="Liberation Sans" font-weight="bold" font-size="7.85" fill="#231f20">IFN-<tspan font-family="Liberation Serif" font-weight="normal">&#945;</tspan>50000 pg/ml</text>
<text transform="translate(591.10,1554.70) scale(1,0.95) rotate(-45)" text-anchor="end" font-family="Liberation Sans" font-weight="bold" font-size="7.85" fill="#231f20">IFN-<tspan font-family="Liberation Serif" font-weight="normal">&#945;</tspan>+17(18) EpETE 0.08pg/ul</text>
<text transform="translate(616.65,1554.70) scale(1,0.95) rotate(-45)" text-anchor="end" font-family="Liberation Sans" font-weight="bold" font-size="7.85" fill="#231f20">IFN-<tspan font-family="Liberation Serif" font-weight="normal">&#945;</tspan>+19(20) EpDPA 0.3pg/ul</text>
<text transform="translate(642.35,1554.70) scale(1,0.95) rotate(-45)" text-anchor="end" font-family="Liberation Sans" font-weight="bold" font-size="7.85" fill="#231f20">IFN-<tspan font-family="Liberation Serif" font-weight="normal">&#945;</tspan>+17(18) EpETE+ TPPU</text>
<text transform="translate(668.00,1554.70) scale(1,0.95) rotate(-45)" text-anchor="end" font-family="Liberation Sans" font-weight="bold" font-size="7.85" fill="#231f20">IFN-<tspan font-family="Liberation Serif" font-weight="normal">&#945;</tspan>+19(20) EpDPA+ TPPU</text>
</svg></body></html>
